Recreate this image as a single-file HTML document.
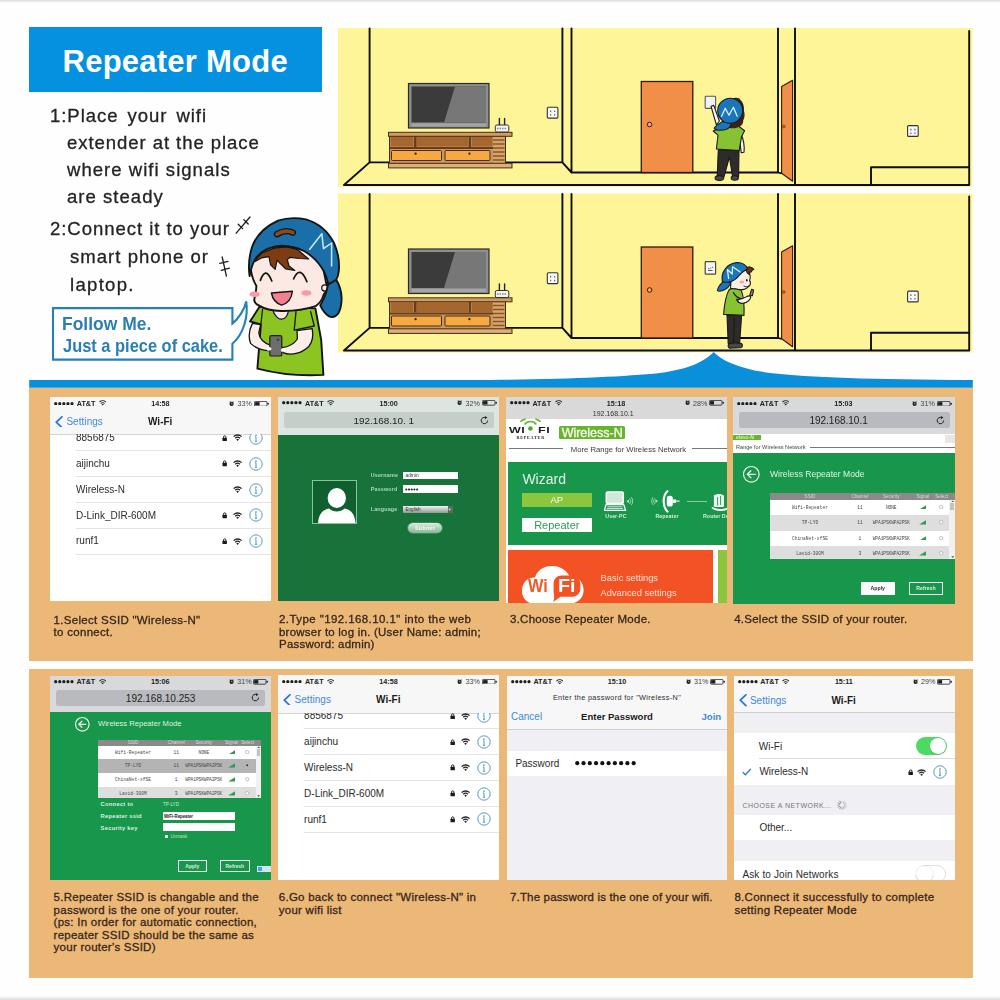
<!DOCTYPE html>
<html><head><meta charset="utf-8">
<style>
html,body{margin:0;padding:0;}
body{width:1000px;height:1000px;position:relative;overflow:hidden;background:#fefefe;font-family:"Liberation Sans",sans-serif;}
.abs{position:absolute;}
.t{position:absolute;white-space:nowrap;color:#2b2b2b;line-height:1;}
.ins{font-size:18.2px;color:#232323;letter-spacing:1.0px;-webkit-text-stroke:.3px #232323;transform-origin:0 0;transform:scaleX(1.02);}
.cap{color:#38261a;-webkit-text-stroke:.3px #38261a;}
.shot{position:absolute;overflow:hidden;background:#fff;}
.shot .t{color:#222;}
</style></head><body><div id="w" style="position:absolute;left:0;top:0;width:1000px;height:1000px;overflow:hidden;filter:blur(.45px)">
<!--BG-->
<div class="abs" style="left:0;top:0;width:1000px;height:2.5px;background:linear-gradient(#dcdcdc,#fefefe)"></div>
<div class="abs" style="left:0;top:996px;width:1000px;height:4px;background:linear-gradient(#fefefe,#dcdcdc)"></div>
<div class="abs" style="left:29px;top:27px;width:292.5px;height:64.5px;background:#0491df"></div>
<div class="t" id="title" style="left:62.5px;top:46px;font-size:31px;font-weight:bold;color:#fff;letter-spacing:0.25px">Repeater Mode</div>
<!--INSTRUCTIONS-->
<div class="t ins" id="i1" style="transform:scaleX(1.02);left:50px;top:107px;word-spacing:2.9px;letter-spacing:0.92px">1:Place your wifi</div>
<div class="t ins" id="i2" style="transform:scaleX(1.02);left:66.5px;top:134px;letter-spacing:.91px">extender at the place</div>
<div class="t ins" id="i3" style="transform:scaleX(1.02);left:66.5px;top:161px;">where wifi signals</div>
<div class="t ins" id="i4" style="transform:scaleX(1.02);left:66.5px;top:188px;">are steady</div>
<div class="t ins" id="i5" style="transform:scaleX(1.02);left:50px;top:220px;letter-spacing:.93px">2:Connect it to your</div>
<div class="t ins" id="i6" style="transform:scaleX(1.02);left:69.5px;top:248px;">smart phone or</div>
<div class="t ins" id="i7" style="transform:scaleX(1.02);left:69.5px;top:275.6px;letter-spacing:1.27px">laptop.</div>
<!--ART-->
<svg class="abs" id="art" style="left:0;top:0" width="1000" height="400" viewBox="0 0 1000 400">
<defs>
<g id="room">
 <rect x="338" y="28" width="634.5" height="159" fill="#fdf598"/>
 <g stroke="#0d0d0d" stroke-width="1.9" fill="none" stroke-linecap="round" stroke-linejoin="round">
  <path d="M369.6 28.5V162.4H562.4V28.5M562.4 162.4L571.5 172.5M571.5 28.5V172.5H778V28.5M369.6 162.4L344 185H969.2V31M795 28.5V185M871 185V167.3H969"/>
 </g>
 <!-- TV -->
 <rect x="408.5" y="83.5" width="80.5" height="44.5" fill="#8f8f8f" stroke="#2a2a2a" stroke-width="1.2"/>
 <rect x="411.5" y="86.5" width="74.5" height="36" fill="#3b3b3b"/>
 <path d="M455 86.5H486V122.5H444Z" fill="#777"/>
 <rect x="411.5" y="123.5" width="74.5" height="3" fill="#a5a5a5"/>
 <!-- stand -->
 <rect x="389.5" y="136" width="116" height="28" fill="#c99860" stroke="#4a2c14" stroke-width="1"/>
 <rect x="390.5" y="137" width="23" height="9.5" fill="#a5672f"/>
 <rect x="417" y="137" width="51" height="9.5" fill="#a5672f"/>
 <rect x="472" y="137" width="20.5" height="9.5" fill="#a5672f"/>
 <rect x="414" y="136.5" width="2.6" height="10.5" fill="#6a3c18"/>
 <rect x="468.6" y="136.5" width="2.6" height="10.5" fill="#6a3c18"/>
 <rect x="389.5" y="147" width="103.5" height="2" fill="#6a3c18"/>
 <rect x="391.5" y="150.5" width="50" height="10" rx="1" fill="#f6a843" stroke="#4a2c14" stroke-width="1"/>
 <rect x="445" y="150.5" width="45" height="10" rx="1" fill="#f6a843" stroke="#4a2c14" stroke-width="1"/>
 <circle cx="415.6" cy="153.7" r="1.1" fill="#2a1808"/>
 <circle cx="469.4" cy="153.7" r="1.1" fill="#2a1808"/>
 <rect x="493" y="136.5" width="11.5" height="27" fill="#d7a56a"/>
 <path d="M493 140h11.5M493 144h11.5M493 148h11.5M493 152h11.5M493 156h11.5M493 160h11.5" stroke="#8a5526" stroke-width="1.7"/>
 <rect x="388.5" y="132.3" width="123.5" height="4" fill="#cf9c62" stroke="#4a2c14" stroke-width="1"/>
 <rect x="388.5" y="163.3" width="123.5" height="4.6" fill="#dcae78" stroke="#4a2c14" stroke-width="1"/>
 <!-- router -->
 <path d="M499.4 118.5V126M504.6 118.5V126" stroke="#222" stroke-width="1.4" stroke-linecap="round"/>
 <rect x="495.3" y="125" width="13.5" height="7" rx="1.6" fill="#f4f4f4" stroke="#333" stroke-width="1"/>
 <path d="M497 128.5h10" stroke="#888" stroke-width="1.5" stroke-dasharray="1.5 1"/>
 <!-- outlets -->
 <rect x="547.3" y="107.3" width="10.6" height="10.8" rx="1" fill="#fafafa" stroke="#333" stroke-width="1.1"/>
 <path d="M550.6 110.5v1.6M554.6 110.5v1.6M550.6 114.2v1.6M554.6 114.2v1.6" stroke="#666" stroke-width="1.2"/>
 <rect x="907.6" y="125.6" width="10.6" height="10.8" rx="1" fill="#fafafa" stroke="#333" stroke-width="1.1"/>
 <path d="M910.9 128.8v1.6M914.9 128.8v1.6M910.9 132.5v1.6M914.9 132.5v1.6" stroke="#666" stroke-width="1.2"/>
 <!-- doors -->
 <rect x="641.3" y="81.5" width="51.5" height="91" fill="#f18f49" stroke="#2e1a0c" stroke-width="1.3"/>
 <circle cx="649.6" cy="124.5" r="2.3" fill="#f7a860" stroke="#3a200e" stroke-width="1"/>
 <path d="M781.6 86.5L792.6 80.3V181.2L781.6 173.2Z" fill="#f18f49" stroke="#2e1a0c" stroke-width="1.1" stroke-linejoin="round"/>
 <circle cx="783.7" cy="126.5" r="1.4" fill="#c86a30" stroke="#5a3018" stroke-width=".6"/>
 <path d="M778 172.5L781.6 173.4" stroke="#0d0d0d" stroke-width="1.6"/>
</g>
</defs>
<use href="#room"/>
<use href="#room" transform="translate(0 165.5)"/>

<!-- switches -->
<rect x="705.2" y="96.2" width="10.4" height="12.2" rx=".8" fill="#f2f2f2" stroke="#5a5a5a" stroke-width="1.1"/>
<rect x="705.2" y="261.6" width="10.4" height="12.6" rx=".8" fill="#f7f7f7" stroke="#4a4a3a" stroke-width="1.2"/>
<path d="M708 270.5h4.6M708.4 268.6h1M710.2 268h1M712 267.2h1" stroke="#555" stroke-width="1.1"/>
<!-- kid 1 (back view) -->
<g stroke="#1a1a1a" stroke-width="1.1" stroke-linejoin="round" stroke-linecap="round">
 <!-- legs -->
 <path d="M718.3 149.5L739 150.6L738.6 176.5L732.6 176.8L729.4 157L724 176.8L717.2 176.5Z" fill="#2e2b2b"/>
 <ellipse cx="719.4" cy="178" rx="4.3" ry="2.4" fill="#4a4646"/>
 <ellipse cx="734.8" cy="178" rx="3.6" ry="2.2" fill="#4a4646"/>
 <!-- right arm -->
 <path d="M741.3 134.5C743.6 140 744.6 147 744 152.2L741.2 152.6L739.4 137Z" fill="#fdf3ef"/>
 <!-- raised arm -->
 <path d="M711 106.2L713.8 105.4L719.4 121L716.4 125Z" fill="#fdf3ef"/>
 <!-- shirt -->
 <path d="M713.2 131L721.5 127.6L738.4 126L744.6 130.8L741.6 136.4L739.2 150.6L716.4 149L718 135.2Z" fill="#86c232"/>
 <!-- hair -->
 <path d="M732 99C735 96.8 739.5 97.4 740.5 100C743 102 744.4 106 744 111C745.2 114 744.6 118 743.2 120.5C743.4 124 741 126.6 737.5 127.4C733 129 729 128.4 727 126.4L738 118Z" fill="#3a2416" stroke="none"/>
 <!-- cap -->
 <path d="M722.6 121.5C719.4 123.6 715.4 126 714.2 128C715 130.4 721 131 726.6 129.2C729.6 128 731 125.4 731.6 123.6Z" fill="#1b75bb"/>
 <circle cx="730.2" cy="110.8" r="12.5" fill="#1b75bb"/>
 <path d="M721.6 116.2L725.2 108.2L729 115.2L733.4 107.2L737.2 116.2" fill="none" stroke="#dff1fb" stroke-width="1.3"/>
</g>
<!-- kid 2 (side view) -->
<g stroke="#1a1a1a" stroke-width="1.1" stroke-linejoin="round" stroke-linecap="round">
 <path d="M727 315L741.6 315.6L739.6 343.6L728.2 343.6Z" fill="#2e2b2b"/>
 <path d="M734.4 318L733.6 343" fill="none" stroke="#111" stroke-width=".8"/>
 <path d="M728.6 344.2C730 342.8 738 342.4 741.6 343.6C743 344.8 742.6 347 741 347.6L729.6 348.2C728 347.4 727.8 345.4 728.6 344.2Z" fill="#4a4646"/>
 <!-- face -->
 <path d="M731 279C733 273 741 268.5 747 270.4C750.4 272.6 750.8 277.4 749.6 280.6C751 282.6 750.6 285.4 748.6 286.4C746.6 289 741.6 290.2 736.6 289.6L730.6 288.4Z" fill="#fdeee9"/>
 <ellipse cx="741.8" cy="282" rx="2.4" ry="1.5" fill="#f6a5b0" stroke="none"/>
 <ellipse cx="746.8" cy="280.2" rx=".8" ry="1.3" fill="#111" stroke="none"/>
 <path d="M743.8 286C745.4 287.2 747.4 287 748.4 286" fill="none" stroke-width=".9"/>
 <!-- hair tuft -->
 <path d="M746.4 268.4C748 266.2 751.6 266.4 753.8 269.4C752.4 269.6 751.6 270.4 751.6 271.6C750 271.6 749.4 273 749.4 274.4C747.6 274 746.2 272 746.4 268.4Z" fill="#6b3415"/>
 <!-- shirt -->
 <path d="M729.4 289.2C733 288.2 738.6 288.8 741.4 290.6C743.4 296 744.4 306 744 315.4L723.6 314.4C724.4 304 726 294.6 729.4 289.2Z" fill="#86c232"/>
 <!-- arm/hand -->
 <path d="M733.4 292.6C735.6 296.4 739.4 299 743.4 298.6C746.6 297 749.4 295.4 750.6 296.4C751 298.8 747.6 302.4 743 303.2C739.6 303.4 737.2 301.6 736.6 299.4" fill="#86c232"/>
 <path d="M737.6 299.2C740 299.8 743.6 298.4 746.6 296.6C748.6 295.6 750.4 295.6 750.8 296.8C750.6 299.6 747.4 302.6 743 303.2C740.2 303.4 737.8 301.8 737.6 299.2Z" fill="#fdf3ef"/>
 <path d="M749.8 295.2L751.6 289.4L753.6 290L752.4 295.8Z" fill="#8a8a80"/>
 <!-- cap -->
 <path d="M723.4 281.4C720.6 284 717.6 288 717.4 290.6C719.4 292.2 724.4 290.6 728 287.4C729.6 285.6 730.6 283.4 730.8 282Z" fill="#1b75bb"/>
 <path d="M722.4 281.6C720.4 272 727.4 263.4 736.6 262.6C742.2 262.4 746.4 265 747.4 268.8C743.4 271 739.6 274.4 736.4 278.4C733.4 281.2 727.6 283.4 722.4 281.6Z" fill="#1b75bb"/>
 <path d="M728.6 278.4L727.4 269.6L732.2 274L732.6 266.8L740.2 272" fill="none" stroke="#dff1fb" stroke-width="1.3"/>
</g>
<!-- blue stripe + bump -->
<path d="M29.2 380H470C560 379.6 620 377 660 373C690 369 705 361 713.6 352C722 361 740 369 770 373C810 377.4 870 379.6 972.8 380V387.7H29.2Z" fill="#0a8fdb"/>

<!-- sparkle marks -->
<g stroke="#1c1c1c" stroke-width="1.3" stroke-linecap="round" fill="none">
 <path d="M236.2 233.2L250 217M238.2 224.2L242.6 228.6M243.8 219.6L248.2 224"/>
 <path d="M222.2 257L226.4 276M219.8 263.4L228 261.4M221.2 270.4L229.4 268.2"/>
</g>
<!-- speech bubble -->
<path d="M53 308.1H232.4V323.6C238.6 318.6 244.6 309.4 246.2 301.4C248.4 316 244 333.6 232.4 343.8V359.6H53Z" fill="#fff" stroke="#2580b9" stroke-width="2.1" stroke-linejoin="miter"/>
<!-- big kid -->
<g stroke="#141414" stroke-width="1.9" stroke-linejoin="round" stroke-linecap="round">
 <!-- shirt -->
 <path d="M259.7 306.6L250 321.4L260.9 324.4L257.4 368.6Q290 377 323.4 374.9L321.2 340L315.4 308.4Z" fill="#8cc421"/>
 <path d="M262.6 309L260.9 324.4" fill="none" stroke-width="1.2"/>
 <path d="M296 311.6L294.2 330.2L314.3 326L310.6 311.6" fill="#8cc421" stroke-width="1.3"/>
 <!-- neck -->
 <path d="M272.8 309.5C274 316 279 319.4 281.5 319.2C285 319.2 288 315.6 288.6 309.5Z" fill="#fde9e3" stroke-width="1.3"/>
 <!-- arms -->
 <path d="M252.4 323.4C249 330 248.6 338 250.6 343.4C256 348.6 264 351.4 270.4 350.4L271 345.4C264 343.4 259.2 338.4 258.8 333L260.6 324.6Z" fill="#fdeee9" stroke-width="1.3"/>
 <path d="M297 330.6L312.2 328.6C313.6 336 312.2 342 309 346.2C303 352.4 292 356.4 283 352.6L282 347.6C288 347 294 344 297.4 339Z" fill="#fdeee9" stroke-width="1.3"/>
 <!-- phone -->
 <rect x="269.8" y="335.6" width="12" height="20.4" rx="1.6" fill="#6e6e6e" stroke="#1c1c1c" stroke-width="1.2"/>
 <circle cx="278" cy="339.8" r="1.4" fill="#444" stroke="none"/>
 <path d="M267 347.6C270 346.4 271.6 347.6 271.4 349.6C270 351.4 267 351 266.6 349.4Z M281 349C282.6 347.4 285.4 347.6 286 349.6C285.6 351.6 282.6 352.4 281.2 351.4Z" fill="#fff" stroke="none"/>
 <!-- face -->
 <path d="M250 262C250.6 274 253.4 281 256.4 286C256.4 291 254.6 296 254.2 300.4C255 303.4 257 304.6 258.6 305.4C264 308.6 272 310.8 281 311C292 311.2 306 309.4 315.6 306.2C320 303 322.6 299 323.6 294.6C326.4 292 327.6 288 326.4 284.4L322 262L300 246L268 247Z" fill="#fce9e4"/>
 <!-- ear -->
 <circle cx="324.8" cy="288" r="3.1" fill="#fce9e4" stroke-width="1.2"/>
 <circle cx="323.6" cy="290.6" r=".9" fill="#222" stroke="none"/>
 <!-- cheeks -->
 <ellipse cx="254.6" cy="294.2" rx="5" ry="2.7" fill="#f79bab" stroke="none"/>
 <ellipse cx="306.4" cy="293" rx="5" ry="2.7" fill="#f79bab" stroke="none"/>
 <!-- eyes -->
 <path d="M260.4 280.4Q265.6 265.6 271.8 281M293.6 278.8Q300 264.6 306.9 281.6" fill="none" stroke-width="1.7"/>
 <!-- mouth -->
 <path d="M271.4 293L292.4 291.2Q291.4 302 281.6 305.2Q273.2 302.4 271.4 293Z" fill="#f3808f" stroke-width="1.4"/>
 <!-- hair -->
 <path d="M255.1 260.6L261.4 253.3L274.1 248.1L286.7 247L297.1 249.3L308.6 259L299.4 258.5L290.2 257.3L287.3 259.6L289 266L294.8 270.5L285.6 268.8L279.8 263.1L277 260.2L275.2 269.4L270.6 264.8L268.9 256.7L261.4 257.9L255.1 261.6Z" fill="#7d3c12" stroke-width="1.2"/>
 <!-- cap flap -->
 <path d="M328.1 284.3C331 282.4 334 281 336.2 279.7C339.6 285 341.4 291 341.6 298C341.6 304 340.6 309 338.8 312.4C336.6 316 333 317.6 329.6 316.6C325.6 314.6 322.4 310 320.2 305.4C323 301 325.4 296 326.6 290.6Z" fill="#1a6fa8"/>
 <!-- cap dome -->
 <path d="M249.6 276C248.4 268 248.6 258 252 247C256 236 264 227 278 220.6C286 218 297 217.6 306 219.4C318 223 328 231.4 334 243C338 252 339.6 262 338.8 271C338.4 275 337.4 278 336.2 279.8L328.2 284.4C327 277 324 271 321.2 267C317 260.6 311 255 304 251C297 247.6 289 246 281 245.8C273 246.2 264 249.6 258 255.6C254 259.6 251.4 266 249.6 276Z" fill="#1a6fa8"/>
 <!-- brown opening -->
 <path d="M277 234.2Q285 229 292.8 232.6" fill="none" stroke="#141414" stroke-width="6.4"/>
 <path d="M277 234.2Q285 229 292.8 232.6" fill="none" stroke="#8b4a1a" stroke-width="3.8"/>
 <!-- M -->
 <path d="M309.7 249.3L321.8 233.7L323.5 248.7L331.6 243L331.6 266" fill="none" stroke="#cdeaf8" stroke-width="1.5"/>
</g>

<!--ARTBODY4-->
</svg>
<div class="t" id="sp1" style="left:62px;top:315.2px;font-size:18.5px;font-weight:bold;color:#2a7fb2;transform-origin:0 0;transform:scaleX(0.945);z-index:3">Follow Me.</div>
<div class="t" id="sp2" style="left:62.5px;top:336.7px;font-size:18.5px;font-weight:bold;color:#2a7fb2;transform-origin:0 0;transform:scaleX(0.888);z-index:3">Just a piece of cake.</div>
<!--TAN-->
<div class="abs" style="left:29px;top:388px;width:944px;height:272.5px;background:#ebb877"></div>
<div class="abs" style="left:29px;top:669px;width:944px;height:308.5px;background:#ebb877"></div>
<div class="shot" style="left:50.20px;top:397.00px;width:220.40px;height:204.00px;background:#fff">
<div class="abs" style="left:0.00px;top:0.00px;width:220.40px;height:37.60px;background:#f7f7f8;"></div>
<div class="abs" style="left:0.00px;top:37.40px;width:220.40px;height:0.70px;background:#d4d4d6;"></div>
<svg class="abs" style="left:3.90px;top:4.60px" width="20" height="3.6" viewBox="0 0 20 3.6"><circle cx="1.70" cy="1.7" r="1.6" fill="#1e1e1e"/><circle cx="5.78" cy="1.7" r="1.6" fill="#1e1e1e"/><circle cx="9.86" cy="1.7" r="1.6" fill="#1e1e1e"/><circle cx="13.94" cy="1.7" r="1.6" fill="#1e1e1e"/><circle cx="18.02" cy="1.7" r="1.6" fill="#1e1e1e"/></svg>
<div class="t" style="top:3.00px;font-size:7.2px;color:#1e1e1e;font-weight:bold;left:26.60px;">AT&amp;T</div>
<svg class="abs" style="left:48.80px;top:3.40px" width="7.4" height="5.6" viewBox="0 0 12 9"><g fill="none" stroke="#1e1e1e" stroke-linecap="butt"><path d="M0.8 3.4A7.4 7.4 0 0 1 11.2 3.4" stroke-width="1.7"/><path d="M2.9 5.5A4.4 4.4 0 0 1 9.1 5.5" stroke-width="1.6"/></g><path d="M6 9L4.3 7.1A2.4 2.4 0 0 1 7.7 7.1Z" fill="#1e1e1e"/></svg>
<div class="t" style="top:3.00px;font-size:7.2px;color:#1e1e1e;font-weight:bold;left:110.20px;transform:translateX(-50%);">14:58</div>
<svg class="abs" style="left:179.00px;top:3.70px" width="5.2" height="5.2" viewBox="0 0 5.2 5.2"><circle cx="2.6" cy="2.9" r="2.1" fill="#1e1e1e"/><path d="M0.6 1L1.6 .2M4.6 1L3.6 .2" stroke="#1e1e1e" stroke-width=".8"/><path d="M2.6 1.8V3H3.6" stroke="#ddd" stroke-width=".6" fill="none"/></svg>
<div class="t" style="top:3.00px;font-size:7.2px;color:#444;left:201.60px;transform:translateX(-100%);">33%</div>
<svg class="abs" style="left:203.40px;top:3.50px" width="15.4" height="5.6" viewBox="0 0 15.4 5.6"><rect x=".4" y=".4" width="12.6" height="4.8" rx="1" fill="none" stroke="#1e1e1e" stroke-width=".8"/><rect x="1.1" y="1.1" width="4.50" height="3.4" fill="#1e1e1e"/><rect x="13.6" y="1.8" width="1.2" height="2" rx=".5" fill="#1e1e1e"/></svg>
<svg class="abs" style="left:5.00px;top:18.80px" width="8" height="12.4" viewBox="0 0 8 12.4"><path d="M6.9 .8L1.3 6.2L6.9 11.6" fill="none" stroke="#2c78d0" stroke-width="1.8" stroke-linecap="round" stroke-linejoin="round"/></svg>
<div class="t" style="top:20.00px;font-size:10px;color:#3e8ad6;letter-spacing:0.05px;left:16.20px;">Settings</div>
<div class="t" style="top:20.00px;font-size:10px;color:#1a1a1a;font-weight:bold;left:110.00px;transform:translateX(-50%);">Wi-Fi</div>
<div class="t" style="top:36.00px;font-size:10px;color:#2b2b2b;left:25.80px;">8856875</div>
<div class="abs" style="left:25.60px;top:53.10px;width:194.80px;height:0.80px;background:#e4e4e6;"></div>
<svg class="abs" style="left:172.20px;top:37.60px" width="5.4" height="6.6" viewBox="0 0 5.4 6.6"><path d="M1.5 3V2.1A1.2 1.3 0 0 1 3.9 2.1V3" fill="none" stroke="#1a1a1a" stroke-width=".9"/><rect x=".5" y="2.8" width="4.4" height="3.5" rx=".5" fill="#1a1a1a"/></svg>
<svg class="abs" style="left:183.00px;top:37.40px" width="9.2" height="7" viewBox="0 0 12 9"><g fill="none" stroke="#222" stroke-linecap="butt"><path d="M0.8 3.4A7.4 7.4 0 0 1 11.2 3.4" stroke-width="1.7"/><path d="M2.9 5.5A4.4 4.4 0 0 1 9.1 5.5" stroke-width="1.6"/></g><path d="M6 9L4.3 7.1A2.4 2.4 0 0 1 7.7 7.1Z" fill="#222"/></svg>
<svg class="abs" style="left:198.60px;top:34.00px" width="14" height="14" viewBox="0 0 14 14"><circle cx="7" cy="7" r="6.2" fill="#fff" stroke="#5b97c2" stroke-width="1"/><circle cx="7" cy="4.1" r=".85" fill="#5b97c2"/><path d="M7 5.9V10.3M6 5.9H7M5.9 10.3H8.1" stroke="#5b97c2" stroke-width="1" fill="none"/></svg>
<div class="t" style="top:62.00px;font-size:10px;color:#2b2b2b;left:25.80px;">aijinchu</div>
<div class="abs" style="left:25.60px;top:78.95px;width:194.80px;height:0.80px;background:#e4e4e6;"></div>
<svg class="abs" style="left:172.20px;top:63.40px" width="5.4" height="6.6" viewBox="0 0 5.4 6.6"><path d="M1.5 3V2.1A1.2 1.3 0 0 1 3.9 2.1V3" fill="none" stroke="#1a1a1a" stroke-width=".9"/><rect x=".5" y="2.8" width="4.4" height="3.5" rx=".5" fill="#1a1a1a"/></svg>
<svg class="abs" style="left:183.00px;top:63.20px" width="9.2" height="7" viewBox="0 0 12 9"><g fill="none" stroke="#222" stroke-linecap="butt"><path d="M0.8 3.4A7.4 7.4 0 0 1 11.2 3.4" stroke-width="1.7"/><path d="M2.9 5.5A4.4 4.4 0 0 1 9.1 5.5" stroke-width="1.6"/></g><path d="M6 9L4.3 7.1A2.4 2.4 0 0 1 7.7 7.1Z" fill="#222"/></svg>
<svg class="abs" style="left:198.60px;top:59.80px" width="14" height="14" viewBox="0 0 14 14"><circle cx="7" cy="7" r="6.2" fill="#fff" stroke="#5b97c2" stroke-width="1"/><circle cx="7" cy="4.1" r=".85" fill="#5b97c2"/><path d="M7 5.9V10.3M6 5.9H7M5.9 10.3H8.1" stroke="#5b97c2" stroke-width="1" fill="none"/></svg>
<div class="t" style="top:88.00px;font-size:10px;color:#2b2b2b;left:25.80px;">Wireless-N</div>
<div class="abs" style="left:25.60px;top:104.80px;width:194.80px;height:0.80px;background:#e4e4e6;"></div>
<svg class="abs" style="left:183.00px;top:89.00px" width="9.2" height="7" viewBox="0 0 12 9"><g fill="none" stroke="#222" stroke-linecap="butt"><path d="M0.8 3.4A7.4 7.4 0 0 1 11.2 3.4" stroke-width="1.7"/><path d="M2.9 5.5A4.4 4.4 0 0 1 9.1 5.5" stroke-width="1.6"/></g><path d="M6 9L4.3 7.1A2.4 2.4 0 0 1 7.7 7.1Z" fill="#222"/></svg>
<svg class="abs" style="left:198.60px;top:85.60px" width="14" height="14" viewBox="0 0 14 14"><circle cx="7" cy="7" r="6.2" fill="#fff" stroke="#5b97c2" stroke-width="1"/><circle cx="7" cy="4.1" r=".85" fill="#5b97c2"/><path d="M7 5.9V10.3M6 5.9H7M5.9 10.3H8.1" stroke="#5b97c2" stroke-width="1" fill="none"/></svg>
<div class="t" style="top:114.00px;font-size:10px;color:#2b2b2b;left:25.80px;">D-Link_DIR-600M</div>
<div class="abs" style="left:25.60px;top:130.65px;width:194.80px;height:0.80px;background:#e4e4e6;"></div>
<svg class="abs" style="left:172.20px;top:115.00px" width="5.4" height="6.6" viewBox="0 0 5.4 6.6"><path d="M1.5 3V2.1A1.2 1.3 0 0 1 3.9 2.1V3" fill="none" stroke="#1a1a1a" stroke-width=".9"/><rect x=".5" y="2.8" width="4.4" height="3.5" rx=".5" fill="#1a1a1a"/></svg>
<svg class="abs" style="left:183.00px;top:114.80px" width="9.2" height="7" viewBox="0 0 12 9"><g fill="none" stroke="#222" stroke-linecap="butt"><path d="M0.8 3.4A7.4 7.4 0 0 1 11.2 3.4" stroke-width="1.7"/><path d="M2.9 5.5A4.4 4.4 0 0 1 9.1 5.5" stroke-width="1.6"/></g><path d="M6 9L4.3 7.1A2.4 2.4 0 0 1 7.7 7.1Z" fill="#222"/></svg>
<svg class="abs" style="left:198.60px;top:111.40px" width="14" height="14" viewBox="0 0 14 14"><circle cx="7" cy="7" r="6.2" fill="#fff" stroke="#5b97c2" stroke-width="1"/><circle cx="7" cy="4.1" r=".85" fill="#5b97c2"/><path d="M7 5.9V10.3M6 5.9H7M5.9 10.3H8.1" stroke="#5b97c2" stroke-width="1" fill="none"/></svg>
<div class="t" style="top:139.00px;font-size:10px;color:#2b2b2b;left:25.80px;">runf1</div>
<div class="abs" style="left:25.60px;top:156.50px;width:194.80px;height:0.80px;background:#e4e4e6;"></div>
<svg class="abs" style="left:172.20px;top:140.80px" width="5.4" height="6.6" viewBox="0 0 5.4 6.6"><path d="M1.5 3V2.1A1.2 1.3 0 0 1 3.9 2.1V3" fill="none" stroke="#1a1a1a" stroke-width=".9"/><rect x=".5" y="2.8" width="4.4" height="3.5" rx=".5" fill="#1a1a1a"/></svg>
<svg class="abs" style="left:183.00px;top:140.60px" width="9.2" height="7" viewBox="0 0 12 9"><g fill="none" stroke="#222" stroke-linecap="butt"><path d="M0.8 3.4A7.4 7.4 0 0 1 11.2 3.4" stroke-width="1.7"/><path d="M2.9 5.5A4.4 4.4 0 0 1 9.1 5.5" stroke-width="1.6"/></g><path d="M6 9L4.3 7.1A2.4 2.4 0 0 1 7.7 7.1Z" fill="#222"/></svg>
<svg class="abs" style="left:198.60px;top:137.20px" width="14" height="14" viewBox="0 0 14 14"><circle cx="7" cy="7" r="6.2" fill="#fff" stroke="#5b97c2" stroke-width="1"/><circle cx="7" cy="4.1" r=".85" fill="#5b97c2"/><path d="M7 5.9V10.3M6 5.9H7M5.9 10.3H8.1" stroke="#5b97c2" stroke-width="1" fill="none"/></svg>
<div class="abs" style="left:0.00px;top:30.00px;width:220.40px;height:7.40px;background:#f7f7f8;"></div>
</div>
<div class="shot" style="left:278.40px;top:396.70px;width:220.80px;height:204.10px;background:#17733a">
<div class="abs" style="left:0.00px;top:0.00px;width:220.80px;height:38.30px;background:#dde5e1;"></div>
<svg class="abs" style="left:3.90px;top:4.60px" width="20" height="3.6" viewBox="0 0 20 3.6"><circle cx="1.70" cy="1.7" r="1.6" fill="#1e1e1e"/><circle cx="5.78" cy="1.7" r="1.6" fill="#1e1e1e"/><circle cx="9.86" cy="1.7" r="1.6" fill="#1e1e1e"/><circle cx="13.94" cy="1.7" r="1.6" fill="#1e1e1e"/><circle cx="18.02" cy="1.7" r="1.6" fill="#1e1e1e"/></svg>
<div class="t" style="top:3.30px;font-size:7.2px;color:#1e1e1e;font-weight:bold;left:26.60px;">AT&amp;T</div>
<svg class="abs" style="left:48.80px;top:3.40px" width="7.4" height="5.6" viewBox="0 0 12 9"><g fill="none" stroke="#1e1e1e" stroke-linecap="butt"><path d="M0.8 3.4A7.4 7.4 0 0 1 11.2 3.4" stroke-width="1.7"/><path d="M2.9 5.5A4.4 4.4 0 0 1 9.1 5.5" stroke-width="1.6"/></g><path d="M6 9L4.3 7.1A2.4 2.4 0 0 1 7.7 7.1Z" fill="#1e1e1e"/></svg>
<div class="t" style="top:3.30px;font-size:7.2px;color:#1e1e1e;font-weight:bold;left:110.20px;transform:translateX(-50%);">15:00</div>
<svg class="abs" style="left:179.00px;top:3.70px" width="5.2" height="5.2" viewBox="0 0 5.2 5.2"><circle cx="2.6" cy="2.9" r="2.1" fill="#1e1e1e"/><path d="M0.6 1L1.6 .2M4.6 1L3.6 .2" stroke="#1e1e1e" stroke-width=".8"/><path d="M2.6 1.8V3H3.6" stroke="#ddd" stroke-width=".6" fill="none"/></svg>
<div class="t" style="top:3.30px;font-size:7.2px;color:#444;left:201.60px;transform:translateX(-100%);">32%</div>
<svg class="abs" style="left:203.40px;top:3.50px" width="15.4" height="5.6" viewBox="0 0 15.4 5.6"><rect x=".4" y=".4" width="12.6" height="4.8" rx="1" fill="none" stroke="#1e1e1e" stroke-width=".8"/><rect x="1.1" y="1.1" width="4.38" height="3.4" fill="#1e1e1e"/><rect x="13.6" y="1.8" width="1.2" height="2" rx=".5" fill="#1e1e1e"/></svg>
<div class="abs" style="left:6.00px;top:15.30px;width:210.00px;height:16.40px;background:#c4cfca;border-radius:2.5px;"></div>
<div class="t" style="top:19.30px;font-size:9.9px;color:#1e1e1e;left:105.40px;transform:translateX(-50%);">192.168.10. 1</div>
<svg class="abs" style="left:201.90px;top:19.00px" width="9" height="9" viewBox="0 0 9 9"><path d="M7.6 4.6A3.2 3.2 0 1 1 5.6 1.6" fill="none" stroke="#222" stroke-width="1"/><path d="M4.9 0L7.4 1.6L5 3.2Z" fill="#222"/></svg>
<div class="abs" style="left:33.60px;top:83.30px;width:45.20px;height:44.40px;background:#0f5f2f;box-sizing:border-box;border:1px solid #86c79a;"></div>
<svg class="abs" style="left:34.60px;top:84.30px" width="43.2" height="42.4" viewBox="0 0 43.2 42.4"><ellipse cx="23.8" cy="17" rx="9.2" ry="10" fill="#fff"/><path d="M5 42.4C5.6 33 10 28.6 16 27.6C20 31.6 27.6 31.6 31.6 27.6C37.6 28.6 42 33 42.6 42.4Z" fill="#fff"/></svg>
<div class="t" style="top:76.30px;font-size:5.4px;color:#a9d8ba;font-weight:bold;letter-spacing:0.15px;left:92.40px;">Username</div>
<div class="t" style="top:90.30px;font-size:5.4px;color:#a9d8ba;font-weight:bold;letter-spacing:0.15px;left:92.40px;">Password</div>
<div class="t" style="top:110.30px;font-size:5.4px;color:#a9d8ba;font-weight:bold;letter-spacing:0.15px;left:92.40px;">Language</div>
<div class="abs" style="left:124.60px;top:74.90px;width:54.70px;height:7.80px;background:#fff;"></div>
<div class="abs" style="left:124.60px;top:88.60px;width:54.70px;height:7.90px;background:#fff;"></div>
<div class="t" style="top:77.30px;font-size:4.8px;color:#333;left:127.10px;">admin</div>
<svg class="abs" style="left:127.00px;top:91.10px" width="16" height="3" viewBox="0 0 16 3"><circle cx="1.3" cy="1.5" r="1.05" fill="#222"/><circle cx="4.0" cy="1.5" r="1.05" fill="#222"/><circle cx="6.7" cy="1.5" r="1.05" fill="#222"/><circle cx="9.4" cy="1.5" r="1.05" fill="#222"/><circle cx="12.1" cy="1.5" r="1.05" fill="#222"/></svg>
<div class="abs" style="left:124.60px;top:109.00px;width:49.60px;height:7.30px;background:linear-gradient(#f2f2f2,#8e9a92);"></div>
<div class="abs" style="left:169.20px;top:109.00px;width:5.00px;height:7.30px;background:#5c6a62;"></div>
<svg class="abs" style="left:170.00px;top:110.90px" width="3.4" height="3.4" viewBox="0 0 3.4 3.4"><path d="M.3 .8H3.1L1.7 2.8Z" fill="#ddd"/></svg>
<div class="t" style="top:111.30px;font-size:4.6px;color:#333;left:127.10px;">English</div>
<div class="abs" style="left:129.60px;top:126.50px;width:33.80px;height:10.00px;background:linear-gradient(#dcebe0,#86b796);border-radius:5px;box-shadow:0 0 0 .6px #5fa277;"></div>
<div class="t" style="top:129.30px;font-size:5.4px;color:#f4fbf6;font-weight:bold;letter-spacing:0.3px;left:146.60px;transform:translateX(-50%);">Submit</div>
</div>
<div class="shot" style="left:505.80px;top:396.70px;width:221.50px;height:206.60px;background:#fff">
<div class="abs" style="left:0.00px;top:0.00px;width:221.50px;height:22.70px;background:#d9d9da;"></div>
<svg class="abs" style="left:3.90px;top:4.60px" width="20" height="3.6" viewBox="0 0 20 3.6"><circle cx="1.70" cy="1.7" r="1.6" fill="#1e1e1e"/><circle cx="5.78" cy="1.7" r="1.6" fill="#1e1e1e"/><circle cx="9.86" cy="1.7" r="1.6" fill="#1e1e1e"/><circle cx="13.94" cy="1.7" r="1.6" fill="#1e1e1e"/><circle cx="18.02" cy="1.7" r="1.6" fill="#1e1e1e"/></svg>
<div class="t" style="top:3.30px;font-size:7.2px;color:#1e1e1e;font-weight:bold;left:26.60px;">AT&amp;T</div>
<svg class="abs" style="left:48.80px;top:3.40px" width="7.4" height="5.6" viewBox="0 0 12 9"><g fill="none" stroke="#1e1e1e" stroke-linecap="butt"><path d="M0.8 3.4A7.4 7.4 0 0 1 11.2 3.4" stroke-width="1.7"/><path d="M2.9 5.5A4.4 4.4 0 0 1 9.1 5.5" stroke-width="1.6"/></g><path d="M6 9L4.3 7.1A2.4 2.4 0 0 1 7.7 7.1Z" fill="#1e1e1e"/></svg>
<div class="t" style="top:3.30px;font-size:7.2px;color:#1e1e1e;font-weight:bold;left:110.20px;transform:translateX(-50%);">15:18</div>
<svg class="abs" style="left:179.00px;top:3.70px" width="5.2" height="5.2" viewBox="0 0 5.2 5.2"><circle cx="2.6" cy="2.9" r="2.1" fill="#1e1e1e"/><path d="M0.6 1L1.6 .2M4.6 1L3.6 .2" stroke="#1e1e1e" stroke-width=".8"/><path d="M2.6 1.8V3H3.6" stroke="#ddd" stroke-width=".6" fill="none"/></svg>
<div class="t" style="top:3.30px;font-size:7.2px;color:#444;left:201.60px;transform:translateX(-100%);">28%</div>
<svg class="abs" style="left:203.40px;top:3.50px" width="15.4" height="5.6" viewBox="0 0 15.4 5.6"><rect x=".4" y=".4" width="12.6" height="4.8" rx="1" fill="none" stroke="#1e1e1e" stroke-width=".8"/><rect x="1.1" y="1.1" width="3.94" height="3.4" fill="#1e1e1e"/><rect x="13.6" y="1.8" width="1.2" height="2" rx=".5" fill="#1e1e1e"/></svg>
<div class="t" style="top:13.30px;font-size:7px;color:#333;left:107.40px;transform:translateX(-50%);">192.168.10.1</div>
<div class="t" style="top:29.30px;font-size:8.6px;color:#1c1c1c;font-weight:bold;letter-spacing:0.4px;left:2.80px;transform-origin:0 50%;transform:scaleX(1.45);">WI</div>
<div class="t" style="top:29.30px;font-size:8.6px;color:#1c1c1c;font-weight:bold;letter-spacing:0.5px;left:32.20px;transform-origin:0 50%;transform:scaleX(1.45);">FI</div>
<svg class="abs" style="left:11.20px;top:21.80px" width="27" height="13.5" viewBox="0 0 27 13.5"><circle cx="13.4" cy="10.5" r="2.3" fill="#55a630"/><path d="M7.6 6.4A7.4 7.4 0 0 1 19.4 6.4" fill="none" stroke="#6ab42d" stroke-width="1.6"/><path d="M3.4 3.6A13 13 0 0 1 8.6 .9M18.4 .9A13 13 0 0 1 23.6 3.6" fill="none" stroke="#6ab42d" stroke-width="1.6"/></svg>
<div class="t" style="top:39.30px;font-size:4.2px;color:#222;font-weight:bold;letter-spacing:0.75px;left:24.90px;transform:translateX(-50%);font-family:'Liberation Serif',serif;">REPEATER</div>
<div class="abs" style="left:52.80px;top:29.30px;width:66.80px;height:13.30px;background:#6ab42d;border-radius:1.6px;"></div>
<div class="t" style="top:30.30px;font-size:12.5px;color:#f4faee;left:86.40px;transform:translateX(-50%);-webkit-text-stroke:.35px #f4faee;">Wireless-N</div>
<div class="abs" style="left:3.20px;top:51.50px;width:54.00px;height:0.70px;background:#777;"></div>
<div class="abs" style="left:186.20px;top:51.50px;width:35.30px;height:0.70px;background:#777;"></div>
<div class="t" id="mr" style="top:49.30px;font-size:7.7px;color:#3a3a3a;left:65.00px;">More Range for Wireless Network</div>
<div class="abs" style="left:2.50px;top:65.60px;width:219.00px;height:83.00px;background:#18964b;"></div>
<div class="t" style="top:75.30px;font-size:14px;color:#e2f4e8;left:16.60px;">Wizard</div>
<div class="abs" style="left:16.20px;top:96.00px;width:69.70px;height:14.30px;background:#8cc63e;"></div>
<div class="t" style="top:98.30px;font-size:9.5px;color:#f4fbea;left:51.00px;transform:translateX(-50%);">AP</div>
<div class="abs" style="left:16.20px;top:121.30px;width:69.70px;height:14.40px;background:#fff;"></div>
<div class="t" style="top:123.30px;font-size:11px;color:#2c9c54;left:51.00px;transform:translateX(-50%);">Repeater</div>
<svg class="abs" style="left:98.70px;top:94.80px" width="30" height="21" viewBox="0 0 30 21"><rect x="2.3" y="1" width="17" height="11.4" rx="1.2" fill="#cfe9d9" stroke="#fff" stroke-width="1.5"/><path d="M2 13.6H19.8L21.6 19.4H.4Z" fill="none" stroke="#fff" stroke-width="1.3" stroke-linejoin="round"/><path d="M3.4 15.8H18.4M2.8 17.6H19" stroke="#fff" stroke-width=".8"/><path d="M22.4 10.2L25 8.4V12Z" fill="#bfe3cc"/><path d="M25.6 7.4A4 4 0 0 1 25.6 13M27.2 6.2A6 6 0 0 1 27.2 14.2" fill="none" stroke="#bfe3cc" stroke-width=".8"/></svg>
<div class="t" style="top:117.30px;font-size:5.3px;color:#cfecdb;font-weight:bold;letter-spacing:0.05px;left:110.10px;transform:translateX(-50%);">User-PC</div>
<svg class="abs" style="left:144.70px;top:93.80px" width="31" height="23" viewBox="0 0 31 23"><path d="M8 11.1L5.4 9.3V12.9Z" fill="#bfe3cc"/><path d="M4.8 8.3A4 4 0 0 0 4.8 13.9M3.2 7.1A6 6 0 0 0 3.2 15.1" fill="none" stroke="#bfe3cc" stroke-width=".8"/><path d="M17.4 1.2C12.4 6 12.4 16.4 17.4 21.6" fill="none" stroke="#fff" stroke-width="2.1" stroke-linecap="round"/><rect x="16.8" y="5.8" width="6" height="10.8" rx="2.6" fill="#fff"/><rect x="22.6" y="9.4" width="3.4" height="3.6" fill="#eaf6ee"/><path d="M26 11.1H29.6" stroke="#fff" stroke-width="1.1"/></svg>
<div class="t" style="top:117.30px;font-size:5.3px;color:#cfecdb;font-weight:bold;letter-spacing:0.05px;left:161.20px;transform:translateX(-50%);">Repeater</div>
<div class="abs" style="left:181.00px;top:104.50px;width:20.20px;height:0.90px;background:#86cfa3;"></div>
<svg class="abs" style="left:205.20px;top:97.30px" width="18" height="17.5" viewBox="0 0 18 17.5"><path d="M3.4 1.6C6 .2 10 .2 12.4 1.6V12.4H3.4Z" fill="#eaf6ee" stroke="#fff" stroke-width="1"/><path d="M6.6 3V11.6M9.6 2V11" stroke="#18964b" stroke-width=".9"/><path d="M.8 12.6C4 15.6 12 15.8 17 13.4V15.6C12 17.6 4 17.4 .8 14.6Z" fill="#fff"/></svg>
<div class="t" style="top:117.30px;font-size:5.3px;color:#cfecdb;font-weight:bold;letter-spacing:0.05px;left:197.20px;">Router De</div>
<div class="abs" style="left:2.50px;top:153.70px;width:204.30px;height:52.90px;background:#f35324;"></div>
<div class="abs" style="left:211.80px;top:153.70px;width:9.70px;height:52.90px;background:#8cc63e;"></div>
<svg class="abs" style="left:14.20px;top:165.30px" width="66" height="44" viewBox="0 0 66 44"><path d="M2 29C2 20 8 15 15 15.4C17 8 25 3.4 33 4C41 4.4 47 8.6 49.6 14.4C58 14 63.6 20 63.6 28C63.6 36 58 41 51 41.4H40L36 46H24L20 41.6H14C7 41.6 2 36 2 29Z" fill="#fff"/><path d="M33.6 21.6C33.6 16.6 37 13.4 42 13.4H51C57 13.4 60.4 17 60.4 22.6V26C60.4 31.6 57 34.8 51 34.8H40.6L33 40C35 36.6 34 33 33.6 30Z" fill="#f35324"/></svg>
<div class="t" style="top:181.30px;font-size:17.5px;color:#ee5a28;font-weight:bold;left:22.60px;transform-origin:0 50%;transform:scaleX(0.93);">Wi</div>
<div class="t" style="top:181.30px;font-size:17.5px;color:#fff;font-weight:bold;left:52.00px;transform-origin:0 50%;transform:scaleX(1.12);">Fi</div>
<div class="t" style="top:177.30px;font-size:9.3px;color:#fde2d6;left:94.80px;">Basic settings</div>
<div class="t" style="top:192.30px;font-size:9.3px;color:#fde2d6;left:94.80px;">Advanced settings</div>
</div>
<div class="shot" style="left:733.20px;top:397.00px;width:222.30px;height:207.20px;background:#18964b">
<div class="abs" style="left:0.00px;top:0.00px;width:222.30px;height:36.80px;background:#d8d9db;"></div>
<svg class="abs" style="left:3.90px;top:4.60px" width="20" height="3.6" viewBox="0 0 20 3.6"><circle cx="1.70" cy="1.7" r="1.6" fill="#1e1e1e"/><circle cx="5.78" cy="1.7" r="1.6" fill="#1e1e1e"/><circle cx="9.86" cy="1.7" r="1.6" fill="#1e1e1e"/><circle cx="13.94" cy="1.7" r="1.6" fill="#1e1e1e"/><circle cx="18.02" cy="1.7" r="1.6" fill="#1e1e1e"/></svg>
<div class="t" style="top:3.00px;font-size:7.2px;color:#1e1e1e;font-weight:bold;left:26.60px;">AT&amp;T</div>
<svg class="abs" style="left:48.80px;top:3.40px" width="7.4" height="5.6" viewBox="0 0 12 9"><g fill="none" stroke="#1e1e1e" stroke-linecap="butt"><path d="M0.8 3.4A7.4 7.4 0 0 1 11.2 3.4" stroke-width="1.7"/><path d="M2.9 5.5A4.4 4.4 0 0 1 9.1 5.5" stroke-width="1.6"/></g><path d="M6 9L4.3 7.1A2.4 2.4 0 0 1 7.7 7.1Z" fill="#1e1e1e"/></svg>
<div class="t" style="top:3.00px;font-size:7.2px;color:#1e1e1e;font-weight:bold;left:110.20px;transform:translateX(-50%);">15:03</div>
<svg class="abs" style="left:179.00px;top:3.70px" width="5.2" height="5.2" viewBox="0 0 5.2 5.2"><circle cx="2.6" cy="2.9" r="2.1" fill="#1e1e1e"/><path d="M0.6 1L1.6 .2M4.6 1L3.6 .2" stroke="#1e1e1e" stroke-width=".8"/><path d="M2.6 1.8V3H3.6" stroke="#ddd" stroke-width=".6" fill="none"/></svg>
<div class="t" style="top:3.00px;font-size:7.2px;color:#444;left:201.60px;transform:translateX(-100%);">31%</div>
<svg class="abs" style="left:203.40px;top:3.50px" width="15.4" height="5.6" viewBox="0 0 15.4 5.6"><rect x=".4" y=".4" width="12.6" height="4.8" rx="1" fill="none" stroke="#1e1e1e" stroke-width=".8"/><rect x="1.1" y="1.1" width="4.27" height="3.4" fill="#1e1e1e"/><rect x="13.6" y="1.8" width="1.2" height="2" rx=".5" fill="#1e1e1e"/></svg>
<div class="abs" style="left:6.30px;top:15.00px;width:210.50px;height:16.00px;background:#b9babf;border-radius:2.5px;"></div>
<div class="t" style="top:19.00px;font-size:10px;color:#1e1e1e;left:105.40px;transform:translateX(-50%);">192.168.10.1</div>
<svg class="abs" style="left:202.70px;top:18.50px" width="9" height="9" viewBox="0 0 9 9"><path d="M7.6 4.6A3.2 3.2 0 1 1 5.6 1.6" fill="none" stroke="#222" stroke-width="1"/><path d="M4.9 0L7.4 1.6L5 3.2Z" fill="#222"/></svg>
<div class="abs" style="left:0.00px;top:36.80px;width:222.30px;height:19.40px;background:#fff;"></div>
<div class="abs" style="left:0.00px;top:38.00px;width:28.20px;height:5.20px;background:#6ab42d;"></div>
<div class="t" style="top:38.00px;font-size:5px;color:#d9efc4;font-weight:bold;left:2.80px;">eless-N</div>
<div class="abs" style="left:211.80px;top:38.00px;width:10.50px;height:8.00px;background:#e6e6e6;"></div>
<div class="t" id="rg" style="top:48.00px;font-size:5.6px;color:#444;left:2.80px;">Range for Wireless Network</div>
<div class="abs" style="left:77.30px;top:50.10px;width:145.00px;height:0.70px;background:#777;"></div>
<svg class="abs" style="left:8.70px;top:67.90px" width="18.6" height="18.6" viewBox="0 0 18.6 18.6"><circle cx="9.3" cy="9.3" r="7.8" fill="none" stroke="#eaf7ee" stroke-width="1.2"/><path d="M13.36 9.3H5.40M8.91 5.79L5.24 9.3L8.91 12.81" fill="none" stroke="#eaf7ee" stroke-width="1.2" stroke-linecap="round" stroke-linejoin="round"/></svg>
<div class="t" id="wr4" style="top:73.00px;font-size:8.6px;color:#dff3e6;left:36.80px;">Wireless Repeater Mode</div>
<div class="abs" style="left:36.80px;top:95.50px;width:185.50px;height:7.00px;background:#8a8a8a;"></div>
<div class="t" style="top:98.00px;font-size:4.6px;color:#d8d8d8;left:76.80px;transform:translateX(-50%);">SSID</div>
<div class="t" style="top:98.00px;font-size:4.6px;color:#d8d8d8;left:126.80px;transform:translateX(-50%);">Channel</div>
<div class="t" style="top:98.00px;font-size:4.6px;color:#d8d8d8;left:158.00px;transform:translateX(-50%);">Security</div>
<div class="t" style="top:98.00px;font-size:4.6px;color:#d8d8d8;left:189.60px;transform:translateX(-50%);">Signal</div>
<div class="t" style="top:98.00px;font-size:4.6px;color:#d8d8d8;left:208.40px;transform:translateX(-50%);">Select</div>
<div class="abs" style="left:36.80px;top:102.50px;width:185.50px;height:15.50px;background:#fff;"></div>
<div class="t" style="top:109.00px;font-size:4.6px;color:#4a4a4a;left:76.80px;transform:translateX(-50%);font-family:'Liberation Mono',monospace;">Wifi-Repeater</div>
<div class="t" style="top:109.00px;font-size:4.6px;color:#4a4a4a;left:126.80px;transform:translateX(-50%);font-family:'Liberation Mono',monospace;">11</div>
<div class="t" style="top:109.00px;font-size:4.6px;color:#4a4a4a;left:158.00px;transform:translateX(-50%);font-family:'Liberation Mono',monospace;letter-spacing:-.12px;">NONE</div>
<svg class="abs" style="left:186.00px;top:107.55px" width="7.2" height="4.8" viewBox="0 0 7.2 4.8"><path d="M.2 4.6L7 .2V4.6Z" fill="#2e9a58"/></svg>
<svg class="abs" style="left:206.20px;top:107.75px" width="4.4" height="4.4" viewBox="0 0 4.4 4.4"><circle cx="2.2" cy="2.2" r="1.7" fill="#fff" stroke="#999" stroke-width=".6"/></svg>
<div class="abs" style="left:36.80px;top:118.00px;width:185.50px;height:15.50px;background:#dedede;"></div>
<div class="t" style="top:124.00px;font-size:4.6px;color:#4a4a4a;left:76.80px;transform:translateX(-50%);font-family:'Liberation Mono',monospace;">TP-LYD</div>
<div class="t" style="top:124.00px;font-size:4.6px;color:#4a4a4a;left:126.80px;transform:translateX(-50%);font-family:'Liberation Mono',monospace;">11</div>
<div class="t" style="top:124.00px;font-size:4.6px;color:#4a4a4a;left:158.00px;transform:translateX(-50%);font-family:'Liberation Mono',monospace;letter-spacing:-.12px;">WPA1PSKWPA2PSK</div>
<svg class="abs" style="left:186.00px;top:123.05px" width="7.2" height="4.8" viewBox="0 0 7.2 4.8"><path d="M.2 4.6L7 .2V4.6Z" fill="#2e9a58"/></svg>
<svg class="abs" style="left:206.20px;top:123.25px" width="4.4" height="4.4" viewBox="0 0 4.4 4.4"><circle cx="2.2" cy="2.2" r="1.7" fill="#fff" stroke="#999" stroke-width=".6"/></svg>
<div class="abs" style="left:36.80px;top:133.50px;width:185.50px;height:15.50px;background:#fff;"></div>
<div class="t" style="top:140.00px;font-size:4.6px;color:#4a4a4a;left:76.80px;transform:translateX(-50%);font-family:'Liberation Mono',monospace;">ChinaNet-xfSE</div>
<div class="t" style="top:140.00px;font-size:4.6px;color:#4a4a4a;left:126.80px;transform:translateX(-50%);font-family:'Liberation Mono',monospace;">1</div>
<div class="t" style="top:140.00px;font-size:4.6px;color:#4a4a4a;left:158.00px;transform:translateX(-50%);font-family:'Liberation Mono',monospace;letter-spacing:-.12px;">WPA1PSKWPA2PSK</div>
<svg class="abs" style="left:186.00px;top:138.55px" width="7.2" height="4.8" viewBox="0 0 7.2 4.8"><path d="M.2 4.6L7 .2V4.6Z" fill="#2e9a58"/></svg>
<svg class="abs" style="left:206.20px;top:138.75px" width="4.4" height="4.4" viewBox="0 0 4.4 4.4"><circle cx="2.2" cy="2.2" r="1.7" fill="#fff" stroke="#999" stroke-width=".6"/></svg>
<div class="abs" style="left:36.80px;top:149.00px;width:185.50px;height:12.80px;background:#dedede;"></div>
<div class="t" style="top:155.00px;font-size:4.6px;color:#4a4a4a;left:76.80px;transform:translateX(-50%);font-family:'Liberation Mono',monospace;">Lavid-300M</div>
<div class="t" style="top:155.00px;font-size:4.6px;color:#4a4a4a;left:126.80px;transform:translateX(-50%);font-family:'Liberation Mono',monospace;">3</div>
<div class="t" style="top:155.00px;font-size:4.6px;color:#4a4a4a;left:158.00px;transform:translateX(-50%);font-family:'Liberation Mono',monospace;letter-spacing:-.12px;">WPA1PSKWPA2PSK</div>
<svg class="abs" style="left:186.00px;top:153.80px" width="7.2" height="4.8" viewBox="0 0 7.2 4.8"><path d="M.2 4.6L7 .2V4.6Z" fill="#2e9a58"/></svg>
<svg class="abs" style="left:206.20px;top:154.00px" width="4.4" height="4.4" viewBox="0 0 4.4 4.4"><circle cx="2.2" cy="2.2" r="1.7" fill="#fff" stroke="#999" stroke-width=".6"/></svg>
<div class="abs" style="left:216.30px;top:102.50px;width:6.00px;height:59.30px;background:#f1f1f1;"></div>
<div class="abs" style="left:217.30px;top:106.00px;width:4.00px;height:7.00px;background:#c2c2c2;"></div>
<svg class="abs" style="left:217.50px;top:103.10px" width="3.4" height="2.4" viewBox="0 0 3.4 2.4"><path d="M.3 2.1L1.7 .4L3.1 2.1Z" fill="#555"/></svg>
<svg class="abs" style="left:217.50px;top:158.80px" width="3.4" height="2.4" viewBox="0 0 3.4 2.4"><path d="M.3 .3L1.7 2L3.1 .3Z" fill="#555"/></svg>
<div class="abs" style="left:127.80px;top:185.00px;width:33.60px;height:13.00px;background:#fbfbfb;"></div>
<div class="t" style="top:189.00px;font-size:5.2px;color:#333;font-weight:bold;left:144.60px;transform:translateX(-50%);">Apply</div>
<div class="abs" style="left:175.80px;top:185.00px;width:34.00px;height:13.00px;background:transparent;box-sizing:border-box;border:1px solid #e8f6ec;"></div>
<div class="t" style="top:189.00px;font-size:5.2px;color:#d8f0e0;font-weight:bold;left:192.80px;transform:translateX(-50%);">Refresh</div>
</div>
<div class="shot" style="left:50.00px;top:675.50px;width:221.30px;height:204.50px;background:#18964b">
<div class="abs" style="left:0.00px;top:0.00px;width:221.30px;height:36.30px;background:#d8d9db;"></div>
<svg class="abs" style="left:3.90px;top:4.60px" width="20" height="3.6" viewBox="0 0 20 3.6"><circle cx="1.70" cy="1.7" r="1.6" fill="#1e1e1e"/><circle cx="5.78" cy="1.7" r="1.6" fill="#1e1e1e"/><circle cx="9.86" cy="1.7" r="1.6" fill="#1e1e1e"/><circle cx="13.94" cy="1.7" r="1.6" fill="#1e1e1e"/><circle cx="18.02" cy="1.7" r="1.6" fill="#1e1e1e"/></svg>
<div class="t" style="top:2.50px;font-size:7.2px;color:#1e1e1e;font-weight:bold;left:26.60px;">AT&amp;T</div>
<svg class="abs" style="left:48.80px;top:3.40px" width="7.4" height="5.6" viewBox="0 0 12 9"><g fill="none" stroke="#1e1e1e" stroke-linecap="butt"><path d="M0.8 3.4A7.4 7.4 0 0 1 11.2 3.4" stroke-width="1.7"/><path d="M2.9 5.5A4.4 4.4 0 0 1 9.1 5.5" stroke-width="1.6"/></g><path d="M6 9L4.3 7.1A2.4 2.4 0 0 1 7.7 7.1Z" fill="#1e1e1e"/></svg>
<div class="t" style="top:2.50px;font-size:7.2px;color:#1e1e1e;font-weight:bold;left:110.20px;transform:translateX(-50%);">15:06</div>
<svg class="abs" style="left:179.00px;top:3.70px" width="5.2" height="5.2" viewBox="0 0 5.2 5.2"><circle cx="2.6" cy="2.9" r="2.1" fill="#1e1e1e"/><path d="M0.6 1L1.6 .2M4.6 1L3.6 .2" stroke="#1e1e1e" stroke-width=".8"/><path d="M2.6 1.8V3H3.6" stroke="#ddd" stroke-width=".6" fill="none"/></svg>
<div class="t" style="top:2.50px;font-size:7.2px;color:#444;left:201.60px;transform:translateX(-100%);">31%</div>
<svg class="abs" style="left:203.40px;top:3.50px" width="15.4" height="5.6" viewBox="0 0 15.4 5.6"><rect x=".4" y=".4" width="12.6" height="4.8" rx="1" fill="none" stroke="#1e1e1e" stroke-width=".8"/><rect x="1.1" y="1.1" width="4.27" height="3.4" fill="#1e1e1e"/><rect x="13.6" y="1.8" width="1.2" height="2" rx=".5" fill="#1e1e1e"/></svg>
<div class="abs" style="left:6.00px;top:14.50px;width:209.00px;height:15.60px;background:#b9babf;border-radius:2.5px;"></div>
<div class="t" style="top:18.50px;font-size:10px;color:#1e1e1e;left:110.60px;transform:translateX(-50%);">192.168.10.253</div>
<svg class="abs" style="left:200.90px;top:17.80px" width="9" height="9" viewBox="0 0 9 9"><path d="M7.6 4.6A3.2 3.2 0 1 1 5.6 1.6" fill="none" stroke="#222" stroke-width="1"/><path d="M4.9 0L7.4 1.6L5 3.2Z" fill="#222"/></svg>
<svg class="abs" style="left:23.50px;top:40.00px" width="16.6" height="16.6" viewBox="0 0 16.6 16.6"><circle cx="8.3" cy="8.3" r="6.8" fill="none" stroke="#eaf7ee" stroke-width="1.2"/><path d="M11.84 8.3H4.90M7.96 5.24L4.76 8.3L7.96 11.36" fill="none" stroke="#eaf7ee" stroke-width="1.2" stroke-linecap="round" stroke-linejoin="round"/></svg>
<div class="t" id="wr5" style="top:44.50px;font-size:7.6px;color:#dff3e6;left:48.00px;">Wireless Repeater Mode</div>
<div class="abs" style="left:48.00px;top:64.50px;width:163.00px;height:5.60px;background:#8a8a8a;"></div>
<div class="t" style="top:65.50px;font-size:4.6px;color:#d8d8d8;left:83.00px;transform:translateX(-50%);">SSID</div>
<div class="t" style="top:65.50px;font-size:4.6px;color:#d8d8d8;left:126.20px;transform:translateX(-50%);">Channel</div>
<div class="t" style="top:65.50px;font-size:4.6px;color:#d8d8d8;left:153.80px;transform:translateX(-50%);">Security</div>
<div class="t" style="top:65.50px;font-size:4.6px;color:#d8d8d8;left:181.40px;transform:translateX(-50%);">Signal</div>
<div class="t" style="top:65.50px;font-size:4.6px;color:#d8d8d8;left:197.60px;transform:translateX(-50%);">Select</div>
<div class="abs" style="left:48.00px;top:70.10px;width:163.00px;height:13.40px;background:#fff;"></div>
<div class="t" style="top:75.50px;font-size:4.6px;color:#4a4a4a;left:83.00px;transform:translateX(-50%);font-family:'Liberation Mono',monospace;">Wifi-Repeater</div>
<div class="t" style="top:75.50px;font-size:4.6px;color:#4a4a4a;left:126.20px;transform:translateX(-50%);font-family:'Liberation Mono',monospace;">11</div>
<div class="t" style="top:75.50px;font-size:4.6px;color:#4a4a4a;left:153.80px;transform:translateX(-50%);font-family:'Liberation Mono',monospace;letter-spacing:-.12px;">NONE</div>
<svg class="abs" style="left:177.80px;top:74.10px" width="7.2" height="4.8" viewBox="0 0 7.2 4.8"><path d="M.2 4.6L7 .2V4.6Z" fill="#2e9a58"/></svg>
<svg class="abs" style="left:195.40px;top:74.30px" width="4.4" height="4.4" viewBox="0 0 4.4 4.4"><circle cx="2.2" cy="2.2" r="1.7" fill="#fff" stroke="#999" stroke-width=".6"/></svg>
<div class="abs" style="left:48.00px;top:83.50px;width:163.00px;height:13.60px;background:#b4b4b4;"></div>
<div class="t" style="top:88.50px;font-size:4.6px;color:#4a4a4a;left:83.00px;transform:translateX(-50%);font-family:'Liberation Mono',monospace;">TP-LYD</div>
<div class="t" style="top:88.50px;font-size:4.6px;color:#4a4a4a;left:126.20px;transform:translateX(-50%);font-family:'Liberation Mono',monospace;">11</div>
<div class="t" style="top:88.50px;font-size:4.6px;color:#4a4a4a;left:153.80px;transform:translateX(-50%);font-family:'Liberation Mono',monospace;letter-spacing:-.12px;">WPA1PSKWPA2PSK</div>
<svg class="abs" style="left:177.80px;top:87.60px" width="7.2" height="4.8" viewBox="0 0 7.2 4.8"><path d="M.2 4.6L7 .2V4.6Z" fill="#2e9a58"/></svg>
<svg class="abs" style="left:196.40px;top:88.80px" width="2.4" height="2.4" viewBox="0 0 2.4 2.4"><circle cx="1.2" cy="1.2" r="1" fill="#333"/></svg>
<div class="abs" style="left:48.00px;top:97.10px;width:163.00px;height:14.40px;background:#fff;"></div>
<div class="t" style="top:102.50px;font-size:4.6px;color:#4a4a4a;left:83.00px;transform:translateX(-50%);font-family:'Liberation Mono',monospace;">ChinaNet-xfSE</div>
<div class="t" style="top:102.50px;font-size:4.6px;color:#4a4a4a;left:126.20px;transform:translateX(-50%);font-family:'Liberation Mono',monospace;">1</div>
<div class="t" style="top:102.50px;font-size:4.6px;color:#4a4a4a;left:153.80px;transform:translateX(-50%);font-family:'Liberation Mono',monospace;letter-spacing:-.12px;">WPA1PSKWPA2PSK</div>
<svg class="abs" style="left:177.80px;top:101.60px" width="7.2" height="4.8" viewBox="0 0 7.2 4.8"><path d="M.2 4.6L7 .2V4.6Z" fill="#2e9a58"/></svg>
<svg class="abs" style="left:195.40px;top:101.80px" width="4.4" height="4.4" viewBox="0 0 4.4 4.4"><circle cx="2.2" cy="2.2" r="1.7" fill="#fff" stroke="#999" stroke-width=".6"/></svg>
<div class="abs" style="left:48.00px;top:111.50px;width:163.00px;height:11.00px;background:#dedede;"></div>
<div class="t" style="top:116.50px;font-size:4.6px;color:#4a4a4a;left:83.00px;transform:translateX(-50%);font-family:'Liberation Mono',monospace;">Lavid-300M</div>
<div class="t" style="top:116.50px;font-size:4.6px;color:#4a4a4a;left:126.20px;transform:translateX(-50%);font-family:'Liberation Mono',monospace;">3</div>
<div class="t" style="top:116.50px;font-size:4.6px;color:#4a4a4a;left:153.80px;transform:translateX(-50%);font-family:'Liberation Mono',monospace;letter-spacing:-.12px;">WPA1PSKWPA2PSK</div>
<svg class="abs" style="left:177.80px;top:115.40px" width="7.2" height="4.8" viewBox="0 0 7.2 4.8"><path d="M.2 4.6L7 .2V4.6Z" fill="#2e9a58"/></svg>
<svg class="abs" style="left:195.40px;top:115.60px" width="4.4" height="4.4" viewBox="0 0 4.4 4.4"><circle cx="2.2" cy="2.2" r="1.7" fill="#fff" stroke="#999" stroke-width=".6"/></svg>
<div class="abs" style="left:206.00px;top:70.10px;width:5.00px;height:52.40px;background:#f1f1f1;"></div>
<div class="abs" style="left:207.00px;top:73.60px;width:3.00px;height:7.00px;background:#c2c2c2;"></div>
<svg class="abs" style="left:207.20px;top:70.70px" width="3.4" height="2.4" viewBox="0 0 3.4 2.4"><path d="M.3 2.1L1.7 .4L3.1 2.1Z" fill="#555"/></svg>
<svg class="abs" style="left:207.20px;top:119.50px" width="3.4" height="2.4" viewBox="0 0 3.4 2.4"><path d="M.3 .3L1.7 2L3.1 .3Z" fill="#555"/></svg>
<div class="t" style="top:126.50px;font-size:5.8px;color:#d8f0e0;font-weight:bold;letter-spacing:0.25px;left:50.60px;">Connect to</div>
<div class="t" style="top:138.50px;font-size:5.8px;color:#d8f0e0;font-weight:bold;letter-spacing:0.25px;left:50.60px;">Repeater ssid</div>
<div class="t" style="top:150.50px;font-size:5.8px;color:#d8f0e0;font-weight:bold;letter-spacing:0.25px;left:50.60px;">Security key</div>
<div class="t" style="top:127.50px;font-size:4.6px;color:#cfe9d9;left:113.00px;">TP-LYD</div>
<div class="abs" style="left:113.00px;top:136.30px;width:71.60px;height:7.80px;background:#fff;"></div>
<div class="t" style="top:139.50px;font-size:4.8px;color:#222;font-weight:bold;left:114.40px;transform-origin:0 50%;transform:scaleX(0.9);">WiFi-Repeater</div>
<div class="abs" style="left:113.00px;top:147.70px;width:71.60px;height:8.00px;background:#fff;"></div>
<div class="abs" style="left:114.60px;top:159.10px;width:3.40px;height:3.40px;background:#fff;"></div>
<div class="t" style="top:159.50px;font-size:4.6px;color:#bfe3cc;left:120.40px;">Unmask</div>
<div class="abs" style="left:127.60px;top:184.50px;width:29.40px;height:11.80px;background:transparent;box-sizing:border-box;border:1px solid #e8f6ec;"></div>
<div class="t" style="top:188.50px;font-size:5px;color:#d8f0e0;font-weight:bold;left:142.30px;transform:translateX(-50%);">Apply</div>
<div class="abs" style="left:170.00px;top:184.50px;width:29.60px;height:11.80px;background:transparent;box-sizing:border-box;border:1px solid #e8f6ec;"></div>
<div class="t" style="top:188.50px;font-size:5px;color:#d8f0e0;font-weight:bold;left:184.80px;transform:translateX(-50%);">Refresh</div>
<div class="abs" style="left:207.00px;top:190.30px;width:14.30px;height:6.00px;background:#cfe6f4;"></div>
<div class="abs" style="left:208.40px;top:191.30px;width:3.60px;height:4.00px;background:#4aa0d8;"></div>
</div>
<div class="shot" style="left:278.30px;top:675.20px;width:220.50px;height:204.40px;background:#fff">
<div class="abs" style="left:0.00px;top:0.00px;width:220.50px;height:37.60px;background:#f7f7f8;"></div>
<div class="abs" style="left:0.00px;top:37.40px;width:220.50px;height:0.70px;background:#d4d4d6;"></div>
<svg class="abs" style="left:3.90px;top:4.60px" width="20" height="3.6" viewBox="0 0 20 3.6"><circle cx="1.70" cy="1.7" r="1.6" fill="#1e1e1e"/><circle cx="5.78" cy="1.7" r="1.6" fill="#1e1e1e"/><circle cx="9.86" cy="1.7" r="1.6" fill="#1e1e1e"/><circle cx="13.94" cy="1.7" r="1.6" fill="#1e1e1e"/><circle cx="18.02" cy="1.7" r="1.6" fill="#1e1e1e"/></svg>
<div class="t" style="top:2.80px;font-size:7.2px;color:#1e1e1e;font-weight:bold;left:26.60px;">AT&amp;T</div>
<svg class="abs" style="left:48.80px;top:3.40px" width="7.4" height="5.6" viewBox="0 0 12 9"><g fill="none" stroke="#1e1e1e" stroke-linecap="butt"><path d="M0.8 3.4A7.4 7.4 0 0 1 11.2 3.4" stroke-width="1.7"/><path d="M2.9 5.5A4.4 4.4 0 0 1 9.1 5.5" stroke-width="1.6"/></g><path d="M6 9L4.3 7.1A2.4 2.4 0 0 1 7.7 7.1Z" fill="#1e1e1e"/></svg>
<div class="t" style="top:2.80px;font-size:7.2px;color:#1e1e1e;font-weight:bold;left:110.20px;transform:translateX(-50%);">14:58</div>
<svg class="abs" style="left:179.00px;top:3.70px" width="5.2" height="5.2" viewBox="0 0 5.2 5.2"><circle cx="2.6" cy="2.9" r="2.1" fill="#1e1e1e"/><path d="M0.6 1L1.6 .2M4.6 1L3.6 .2" stroke="#1e1e1e" stroke-width=".8"/><path d="M2.6 1.8V3H3.6" stroke="#ddd" stroke-width=".6" fill="none"/></svg>
<div class="t" style="top:2.80px;font-size:7.2px;color:#444;left:201.60px;transform:translateX(-100%);">33%</div>
<svg class="abs" style="left:203.40px;top:3.50px" width="15.4" height="5.6" viewBox="0 0 15.4 5.6"><rect x=".4" y=".4" width="12.6" height="4.8" rx="1" fill="none" stroke="#1e1e1e" stroke-width=".8"/><rect x="1.1" y="1.1" width="4.50" height="3.4" fill="#1e1e1e"/><rect x="13.6" y="1.8" width="1.2" height="2" rx=".5" fill="#1e1e1e"/></svg>
<svg class="abs" style="left:5.00px;top:18.80px" width="8" height="12.4" viewBox="0 0 8 12.4"><path d="M6.9 .8L1.3 6.2L6.9 11.6" fill="none" stroke="#2c78d0" stroke-width="1.8" stroke-linecap="round" stroke-linejoin="round"/></svg>
<div class="t" style="top:19.80px;font-size:10px;color:#3e8ad6;letter-spacing:0.05px;left:16.20px;">Settings</div>
<div class="t" style="top:19.80px;font-size:10px;color:#1a1a1a;font-weight:bold;left:110.00px;transform:translateX(-50%);">Wi-Fi</div>
<div class="t" style="top:35.80px;font-size:10px;color:#2b2b2b;left:25.80px;">8856875</div>
<div class="abs" style="left:25.60px;top:53.10px;width:194.90px;height:0.80px;background:#e4e4e6;"></div>
<svg class="abs" style="left:172.20px;top:37.60px" width="5.4" height="6.6" viewBox="0 0 5.4 6.6"><path d="M1.5 3V2.1A1.2 1.3 0 0 1 3.9 2.1V3" fill="none" stroke="#1a1a1a" stroke-width=".9"/><rect x=".5" y="2.8" width="4.4" height="3.5" rx=".5" fill="#1a1a1a"/></svg>
<svg class="abs" style="left:183.00px;top:37.40px" width="9.2" height="7" viewBox="0 0 12 9"><g fill="none" stroke="#222" stroke-linecap="butt"><path d="M0.8 3.4A7.4 7.4 0 0 1 11.2 3.4" stroke-width="1.7"/><path d="M2.9 5.5A4.4 4.4 0 0 1 9.1 5.5" stroke-width="1.6"/></g><path d="M6 9L4.3 7.1A2.4 2.4 0 0 1 7.7 7.1Z" fill="#222"/></svg>
<svg class="abs" style="left:198.60px;top:34.00px" width="14" height="14" viewBox="0 0 14 14"><circle cx="7" cy="7" r="6.2" fill="#fff" stroke="#5b97c2" stroke-width="1"/><circle cx="7" cy="4.1" r=".85" fill="#5b97c2"/><path d="M7 5.9V10.3M6 5.9H7M5.9 10.3H8.1" stroke="#5b97c2" stroke-width="1" fill="none"/></svg>
<div class="t" style="top:61.80px;font-size:10px;color:#2b2b2b;left:25.80px;">aijinchu</div>
<div class="abs" style="left:25.60px;top:78.95px;width:194.90px;height:0.80px;background:#e4e4e6;"></div>
<svg class="abs" style="left:172.20px;top:63.40px" width="5.4" height="6.6" viewBox="0 0 5.4 6.6"><path d="M1.5 3V2.1A1.2 1.3 0 0 1 3.9 2.1V3" fill="none" stroke="#1a1a1a" stroke-width=".9"/><rect x=".5" y="2.8" width="4.4" height="3.5" rx=".5" fill="#1a1a1a"/></svg>
<svg class="abs" style="left:183.00px;top:63.20px" width="9.2" height="7" viewBox="0 0 12 9"><g fill="none" stroke="#222" stroke-linecap="butt"><path d="M0.8 3.4A7.4 7.4 0 0 1 11.2 3.4" stroke-width="1.7"/><path d="M2.9 5.5A4.4 4.4 0 0 1 9.1 5.5" stroke-width="1.6"/></g><path d="M6 9L4.3 7.1A2.4 2.4 0 0 1 7.7 7.1Z" fill="#222"/></svg>
<svg class="abs" style="left:198.60px;top:59.80px" width="14" height="14" viewBox="0 0 14 14"><circle cx="7" cy="7" r="6.2" fill="#fff" stroke="#5b97c2" stroke-width="1"/><circle cx="7" cy="4.1" r=".85" fill="#5b97c2"/><path d="M7 5.9V10.3M6 5.9H7M5.9 10.3H8.1" stroke="#5b97c2" stroke-width="1" fill="none"/></svg>
<div class="t" style="top:87.80px;font-size:10px;color:#2b2b2b;left:25.80px;">Wireless-N</div>
<div class="abs" style="left:25.60px;top:104.80px;width:194.90px;height:0.80px;background:#e4e4e6;"></div>
<svg class="abs" style="left:172.20px;top:89.20px" width="5.4" height="6.6" viewBox="0 0 5.4 6.6"><path d="M1.5 3V2.1A1.2 1.3 0 0 1 3.9 2.1V3" fill="none" stroke="#1a1a1a" stroke-width=".9"/><rect x=".5" y="2.8" width="4.4" height="3.5" rx=".5" fill="#1a1a1a"/></svg>
<svg class="abs" style="left:183.00px;top:89.00px" width="9.2" height="7" viewBox="0 0 12 9"><g fill="none" stroke="#222" stroke-linecap="butt"><path d="M0.8 3.4A7.4 7.4 0 0 1 11.2 3.4" stroke-width="1.7"/><path d="M2.9 5.5A4.4 4.4 0 0 1 9.1 5.5" stroke-width="1.6"/></g><path d="M6 9L4.3 7.1A2.4 2.4 0 0 1 7.7 7.1Z" fill="#222"/></svg>
<svg class="abs" style="left:198.60px;top:85.60px" width="14" height="14" viewBox="0 0 14 14"><circle cx="7" cy="7" r="6.2" fill="#fff" stroke="#5b97c2" stroke-width="1"/><circle cx="7" cy="4.1" r=".85" fill="#5b97c2"/><path d="M7 5.9V10.3M6 5.9H7M5.9 10.3H8.1" stroke="#5b97c2" stroke-width="1" fill="none"/></svg>
<div class="t" style="top:113.80px;font-size:10px;color:#2b2b2b;left:25.80px;">D-Link_DIR-600M</div>
<div class="abs" style="left:25.60px;top:130.65px;width:194.90px;height:0.80px;background:#e4e4e6;"></div>
<svg class="abs" style="left:172.20px;top:115.00px" width="5.4" height="6.6" viewBox="0 0 5.4 6.6"><path d="M1.5 3V2.1A1.2 1.3 0 0 1 3.9 2.1V3" fill="none" stroke="#1a1a1a" stroke-width=".9"/><rect x=".5" y="2.8" width="4.4" height="3.5" rx=".5" fill="#1a1a1a"/></svg>
<svg class="abs" style="left:183.00px;top:114.80px" width="9.2" height="7" viewBox="0 0 12 9"><g fill="none" stroke="#222" stroke-linecap="butt"><path d="M0.8 3.4A7.4 7.4 0 0 1 11.2 3.4" stroke-width="1.7"/><path d="M2.9 5.5A4.4 4.4 0 0 1 9.1 5.5" stroke-width="1.6"/></g><path d="M6 9L4.3 7.1A2.4 2.4 0 0 1 7.7 7.1Z" fill="#222"/></svg>
<svg class="abs" style="left:198.60px;top:111.40px" width="14" height="14" viewBox="0 0 14 14"><circle cx="7" cy="7" r="6.2" fill="#fff" stroke="#5b97c2" stroke-width="1"/><circle cx="7" cy="4.1" r=".85" fill="#5b97c2"/><path d="M7 5.9V10.3M6 5.9H7M5.9 10.3H8.1" stroke="#5b97c2" stroke-width="1" fill="none"/></svg>
<div class="t" style="top:139.80px;font-size:10px;color:#2b2b2b;left:25.80px;">runf1</div>
<div class="abs" style="left:25.60px;top:156.50px;width:194.90px;height:0.80px;background:#e4e4e6;"></div>
<svg class="abs" style="left:172.20px;top:140.80px" width="5.4" height="6.6" viewBox="0 0 5.4 6.6"><path d="M1.5 3V2.1A1.2 1.3 0 0 1 3.9 2.1V3" fill="none" stroke="#1a1a1a" stroke-width=".9"/><rect x=".5" y="2.8" width="4.4" height="3.5" rx=".5" fill="#1a1a1a"/></svg>
<svg class="abs" style="left:183.00px;top:140.60px" width="9.2" height="7" viewBox="0 0 12 9"><g fill="none" stroke="#222" stroke-linecap="butt"><path d="M0.8 3.4A7.4 7.4 0 0 1 11.2 3.4" stroke-width="1.7"/><path d="M2.9 5.5A4.4 4.4 0 0 1 9.1 5.5" stroke-width="1.6"/></g><path d="M6 9L4.3 7.1A2.4 2.4 0 0 1 7.7 7.1Z" fill="#222"/></svg>
<svg class="abs" style="left:198.60px;top:137.20px" width="14" height="14" viewBox="0 0 14 14"><circle cx="7" cy="7" r="6.2" fill="#fff" stroke="#5b97c2" stroke-width="1"/><circle cx="7" cy="4.1" r=".85" fill="#5b97c2"/><path d="M7 5.9V10.3M6 5.9H7M5.9 10.3H8.1" stroke="#5b97c2" stroke-width="1" fill="none"/></svg>
<div class="abs" style="left:0.00px;top:30.00px;width:220.50px;height:7.40px;background:#f7f7f8;"></div>
</div>
<div class="shot" style="left:506.80px;top:675.50px;width:220.00px;height:204.50px;background:#efeff4">
<div class="abs" style="left:0.00px;top:0.00px;width:220.00px;height:53.90px;background:#f7f7f8;"></div>
<div class="abs" style="left:0.00px;top:53.70px;width:220.00px;height:0.70px;background:#cfcfd2;"></div>
<svg class="abs" style="left:3.90px;top:4.60px" width="20" height="3.6" viewBox="0 0 20 3.6"><circle cx="1.70" cy="1.7" r="1.6" fill="#1e1e1e"/><circle cx="5.78" cy="1.7" r="1.6" fill="#1e1e1e"/><circle cx="9.86" cy="1.7" r="1.6" fill="#1e1e1e"/><circle cx="13.94" cy="1.7" r="1.6" fill="#1e1e1e"/><circle cx="18.02" cy="1.7" r="1.6" fill="#1e1e1e"/></svg>
<div class="t" style="top:2.50px;font-size:7.2px;color:#1e1e1e;font-weight:bold;left:26.60px;">AT&amp;T</div>
<svg class="abs" style="left:48.80px;top:3.40px" width="7.4" height="5.6" viewBox="0 0 12 9"><g fill="none" stroke="#1e1e1e" stroke-linecap="butt"><path d="M0.8 3.4A7.4 7.4 0 0 1 11.2 3.4" stroke-width="1.7"/><path d="M2.9 5.5A4.4 4.4 0 0 1 9.1 5.5" stroke-width="1.6"/></g><path d="M6 9L4.3 7.1A2.4 2.4 0 0 1 7.7 7.1Z" fill="#1e1e1e"/></svg>
<div class="t" style="top:2.50px;font-size:7.2px;color:#1e1e1e;font-weight:bold;left:110.20px;transform:translateX(-50%);">15:10</div>
<svg class="abs" style="left:179.00px;top:3.70px" width="5.2" height="5.2" viewBox="0 0 5.2 5.2"><circle cx="2.6" cy="2.9" r="2.1" fill="#1e1e1e"/><path d="M0.6 1L1.6 .2M4.6 1L3.6 .2" stroke="#1e1e1e" stroke-width=".8"/><path d="M2.6 1.8V3H3.6" stroke="#ddd" stroke-width=".6" fill="none"/></svg>
<div class="t" style="top:2.50px;font-size:7.2px;color:#444;left:201.60px;transform:translateX(-100%);">31%</div>
<svg class="abs" style="left:203.40px;top:3.50px" width="15.4" height="5.6" viewBox="0 0 15.4 5.6"><rect x=".4" y=".4" width="12.6" height="4.8" rx="1" fill="none" stroke="#1e1e1e" stroke-width=".8"/><rect x="1.1" y="1.1" width="4.27" height="3.4" fill="#1e1e1e"/><rect x="13.6" y="1.8" width="1.2" height="2" rx=".5" fill="#1e1e1e"/></svg>
<div class="t" id="ep" style="top:18.50px;font-size:7.3px;color:#2e2e2e;letter-spacing:0.34px;left:110.20px;transform:translateX(-50%);">Enter the password for &quot;Wireless-N&quot;</div>
<div class="t" style="top:36.50px;font-size:10px;color:#3e8ad6;left:4.20px;">Cancel</div>
<div class="t" style="top:36.50px;font-size:9.6px;color:#1c1c1c;font-weight:bold;left:110.20px;transform:translateX(-50%) scaleX(0.99);">Enter Password</div>
<div class="t" style="top:36.50px;font-size:9.6px;color:#3e8ad6;font-weight:bold;left:214.40px;transform:translateX(-100%);">Join</div>
<div class="abs" style="left:0.00px;top:75.50px;width:220.00px;height:24.60px;background:#fff;"></div>
<div class="t" style="top:83.50px;font-size:10px;color:#2b2b2b;left:8.60px;">Password</div>
<svg class="abs" style="left:68.00px;top:85.90px" width="64" height="4.4" viewBox="0 0 64 4.4"><circle cx="2.20" cy="2.2" r="2.1" fill="#111"/><circle cx="8.48" cy="2.2" r="2.1" fill="#111"/><circle cx="14.76" cy="2.2" r="2.1" fill="#111"/><circle cx="21.04" cy="2.2" r="2.1" fill="#111"/><circle cx="27.32" cy="2.2" r="2.1" fill="#111"/><circle cx="33.60" cy="2.2" r="2.1" fill="#111"/><circle cx="39.88" cy="2.2" r="2.1" fill="#111"/><circle cx="46.16" cy="2.2" r="2.1" fill="#111"/><circle cx="52.44" cy="2.2" r="2.1" fill="#111"/><circle cx="58.72" cy="2.2" r="2.1" fill="#111"/></svg>
</div>
<div class="shot" style="left:733.70px;top:675.50px;width:221.30px;height:204.10px;background:#efeff4">
<div class="abs" style="left:0.00px;top:0.00px;width:221.30px;height:36.50px;background:#f7f7f8;"></div>
<div class="abs" style="left:0.00px;top:36.20px;width:221.30px;height:0.70px;background:#cfcfd2;"></div>
<svg class="abs" style="left:3.90px;top:4.60px" width="20" height="3.6" viewBox="0 0 20 3.6"><circle cx="1.70" cy="1.7" r="1.6" fill="#1e1e1e"/><circle cx="5.78" cy="1.7" r="1.6" fill="#1e1e1e"/><circle cx="9.86" cy="1.7" r="1.6" fill="#1e1e1e"/><circle cx="13.94" cy="1.7" r="1.6" fill="#1e1e1e"/><circle cx="18.02" cy="1.7" r="1.6" fill="#1e1e1e"/></svg>
<div class="t" style="top:2.50px;font-size:7.2px;color:#1e1e1e;font-weight:bold;left:26.60px;">AT&amp;T</div>
<svg class="abs" style="left:48.80px;top:3.40px" width="7.4" height="5.6" viewBox="0 0 12 9"><g fill="none" stroke="#1e1e1e" stroke-linecap="butt"><path d="M0.8 3.4A7.4 7.4 0 0 1 11.2 3.4" stroke-width="1.7"/><path d="M2.9 5.5A4.4 4.4 0 0 1 9.1 5.5" stroke-width="1.6"/></g><path d="M6 9L4.3 7.1A2.4 2.4 0 0 1 7.7 7.1Z" fill="#1e1e1e"/></svg>
<div class="t" style="top:2.50px;font-size:7.2px;color:#1e1e1e;font-weight:bold;left:110.20px;transform:translateX(-50%);">15:11</div>
<svg class="abs" style="left:179.00px;top:3.70px" width="5.2" height="5.2" viewBox="0 0 5.2 5.2"><circle cx="2.6" cy="2.9" r="2.1" fill="#1e1e1e"/><path d="M0.6 1L1.6 .2M4.6 1L3.6 .2" stroke="#1e1e1e" stroke-width=".8"/><path d="M2.6 1.8V3H3.6" stroke="#ddd" stroke-width=".6" fill="none"/></svg>
<div class="t" style="top:2.50px;font-size:7.2px;color:#444;left:201.60px;transform:translateX(-100%);">29%</div>
<svg class="abs" style="left:203.40px;top:3.50px" width="15.4" height="5.6" viewBox="0 0 15.4 5.6"><rect x=".4" y=".4" width="12.6" height="4.8" rx="1" fill="none" stroke="#1e1e1e" stroke-width=".8"/><rect x="1.1" y="1.1" width="4.05" height="3.4" fill="#1e1e1e"/><rect x="13.6" y="1.8" width="1.2" height="2" rx=".5" fill="#1e1e1e"/></svg>
<svg class="abs" style="left:5.00px;top:18.80px" width="8" height="12.4" viewBox="0 0 8 12.4"><path d="M6.9 .8L1.3 6.2L6.9 11.6" fill="none" stroke="#2c78d0" stroke-width="1.8" stroke-linecap="round" stroke-linejoin="round"/></svg>
<div class="t" style="top:20.50px;font-size:10px;color:#3e8ad6;letter-spacing:0.05px;left:16.20px;">Settings</div>
<div class="t" style="top:20.50px;font-size:10px;color:#1a1a1a;font-weight:bold;left:110.00px;transform:translateX(-50%);">Wi-Fi</div>
<div class="abs" style="left:0.00px;top:57.70px;width:221.30px;height:51.40px;background:#fff;"></div>
<div class="abs" style="left:24.90px;top:82.50px;width:196.40px;height:0.70px;background:#dcdcde;"></div>
<div class="t" style="top:66.50px;font-size:10px;color:#2b2b2b;left:25.10px;">Wi-Fi</div>
<div class="abs" style="left:182.50px;top:61.30px;width:30.80px;height:18.20px;background:#4cd964;border-radius:9.2px;"></div>
<div class="abs" style="left:195.90px;top:62.10px;width:16.60px;height:16.60px;background:#fff;border-radius:8.4px;box-shadow:0 .5px 1px rgba(0,0,0,.25);"></div>
<svg class="abs" style="left:8.30px;top:92.10px" width="10" height="8" viewBox="0 0 10 8"><path d="M.8 4.2L3.4 6.8L8.8 .9" fill="none" stroke="#2c78d0" stroke-width="1.4"/></svg>
<div class="t" style="top:91.50px;font-size:10px;color:#2b2b2b;left:25.70px;">Wireless-N</div>
<svg class="abs" style="left:174.30px;top:93.30px" width="5.4" height="6.6" viewBox="0 0 5.4 6.6"><path d="M1.5 3V2.1A1.2 1.3 0 0 1 3.9 2.1V3" fill="none" stroke="#1a1a1a" stroke-width=".9"/><rect x=".5" y="2.8" width="4.4" height="3.5" rx=".5" fill="#1a1a1a"/></svg>
<svg class="abs" style="left:183.50px;top:93.10px" width="9.2" height="7" viewBox="0 0 12 9"><g fill="none" stroke="#222" stroke-linecap="butt"><path d="M0.8 3.4A7.4 7.4 0 0 1 11.2 3.4" stroke-width="1.7"/><path d="M2.9 5.5A4.4 4.4 0 0 1 9.1 5.5" stroke-width="1.6"/></g><path d="M6 9L4.3 7.1A2.4 2.4 0 0 1 7.7 7.1Z" fill="#222"/></svg>
<svg class="abs" style="left:198.90px;top:89.70px" width="14" height="14" viewBox="0 0 14 14"><circle cx="7" cy="7" r="6.2" fill="#fff" stroke="#5b97c2" stroke-width="1"/><circle cx="7" cy="4.1" r=".85" fill="#5b97c2"/><path d="M7 5.9V10.3M6 5.9H7M5.9 10.3H8.1" stroke="#5b97c2" stroke-width="1" fill="none"/></svg>
<div class="t" id="cn" style="top:126.50px;font-size:7px;color:#77777c;letter-spacing:0.49px;left:8.70px;">CHOOSE A NETWORK...</div>
<svg class="abs" style="left:103.50px;top:124.10px" width="10" height="10" viewBox="0 0 10 10"><path d="M5 .6V2.6" stroke="#8a8a8e" stroke-width=".9" stroke-linecap="round" transform="rotate(0 5 5)" opacity="0.35"/><path d="M5 .6V2.6" stroke="#8a8a8e" stroke-width=".9" stroke-linecap="round" transform="rotate(30 5 5)" opacity="0.41"/><path d="M5 .6V2.6" stroke="#8a8a8e" stroke-width=".9" stroke-linecap="round" transform="rotate(60 5 5)" opacity="0.47"/><path d="M5 .6V2.6" stroke="#8a8a8e" stroke-width=".9" stroke-linecap="round" transform="rotate(90 5 5)" opacity="0.53"/><path d="M5 .6V2.6" stroke="#8a8a8e" stroke-width=".9" stroke-linecap="round" transform="rotate(120 5 5)" opacity="0.59"/><path d="M5 .6V2.6" stroke="#8a8a8e" stroke-width=".9" stroke-linecap="round" transform="rotate(150 5 5)" opacity="0.65"/><path d="M5 .6V2.6" stroke="#8a8a8e" stroke-width=".9" stroke-linecap="round" transform="rotate(180 5 5)" opacity="0.70"/><path d="M5 .6V2.6" stroke="#8a8a8e" stroke-width=".9" stroke-linecap="round" transform="rotate(210 5 5)" opacity="0.76"/><path d="M5 .6V2.6" stroke="#8a8a8e" stroke-width=".9" stroke-linecap="round" transform="rotate(240 5 5)" opacity="0.82"/><path d="M5 .6V2.6" stroke="#8a8a8e" stroke-width=".9" stroke-linecap="round" transform="rotate(270 5 5)" opacity="0.88"/><path d="M5 .6V2.6" stroke="#8a8a8e" stroke-width=".9" stroke-linecap="round" transform="rotate(300 5 5)" opacity="0.94"/><path d="M5 .6V2.6" stroke="#8a8a8e" stroke-width=".9" stroke-linecap="round" transform="rotate(330 5 5)" opacity="1.00"/></svg>
<div class="abs" style="left:0.00px;top:139.50px;width:221.30px;height:25.00px;background:#fff;"></div>
<div class="t" style="top:147.50px;font-size:10px;color:#2b2b2b;left:25.70px;">Other...</div>
<div class="abs" style="left:0.00px;top:185.70px;width:221.30px;height:18.40px;background:#fff;"></div>
<div class="t" style="top:194.50px;font-size:10px;color:#2b2b2b;letter-spacing:0.14px;left:8.70px;">Ask to Join Networks</div>
<div class="abs" style="left:182.10px;top:189.50px;width:30.60px;height:18.40px;background:#fff;border-radius:9.2px;box-sizing:border-box;border:1px solid #e0e0e0;"></div>
<div class="abs" style="left:182.70px;top:190.10px;width:16.60px;height:16.80px;background:#fff;border-radius:8.4px;box-shadow:0 .5px 1.5px rgba(0,0,0,.3);"></div>
</div>
<div class="t cap" id="c1a" style="left:53.6px;top:615.00px;font-size:11.5px;letter-spacing:0.293px">1.Select SSID &quot;Wireless-N&quot;</div>
<div class="t cap" id="c1b" style="left:53.6px;top:627.00px;font-size:11.5px;letter-spacing:0.293px">to connect.</div>
<div class="t cap" id="c2a" style="left:279px;top:614.00px;font-size:11.5px;letter-spacing:0.417px">2.Type &quot;192.168.10.1&quot; into the web</div>
<div class="t cap" id="c2b" style="left:279px;top:627.00px;font-size:11.5px;letter-spacing:0.223px">browser to log in. (User Name: admin;</div>
<div class="t cap" id="c2c" style="left:279px;top:639.00px;font-size:11.5px;letter-spacing:0.223px">Password: admin)</div>
<div class="t cap" id="c3a" style="left:510px;top:614.00px;font-size:11.5px;letter-spacing:0.255px">3.Choose Repeater Mode.</div>
<div class="t cap" id="c4a" style="left:734.2px;top:614.00px;font-size:11.5px;letter-spacing:0.252px">4.Select the SSID of your router.</div>
<div class="t cap" id="c5a" style="left:53.6px;top:892.00px;font-size:11.5px;letter-spacing:0.249px">5.Repeater SSID is changable and the</div>
<div class="t cap" id="c5b" style="left:53.6px;top:905.00px;font-size:11.5px;letter-spacing:0.249px">password is the one of your router.</div>
<div class="t cap" id="c5c" style="left:53.6px;top:917.00px;font-size:11.5px;letter-spacing:0.249px">(ps: In order for automatic connection,</div>
<div class="t cap" id="c5d" style="left:53.6px;top:930.00px;font-size:11.5px;letter-spacing:0.249px">repeater SSID should be the same as</div>
<div class="t cap" id="c5e" style="left:53.6px;top:942.00px;font-size:11.5px;letter-spacing:0.249px">your router's SSID)</div>
<div class="t cap" id="c6a" style="left:278.8px;top:892.00px;font-size:11.5px;letter-spacing:0.251px">6.Go back to connect &quot;Wireless-N&quot; in</div>
<div class="t cap" id="c6b" style="left:278.8px;top:905.00px;font-size:11.5px;letter-spacing:0.251px">your wifi list</div>
<div class="t cap" id="c7a" style="left:510px;top:892.00px;font-size:11.5px;letter-spacing:0.164px">7.The password is the one of your wifi.</div>
<div class="t cap" id="c8a" style="left:734.4px;top:892.00px;font-size:11.5px;letter-spacing:0.294px">8.Connect it successfully to complete</div>
<div class="t cap" id="c8b" style="left:734.4px;top:905.00px;font-size:11.5px;letter-spacing:0.294px">setting Repeater Mode</div>

</div></body></html>
